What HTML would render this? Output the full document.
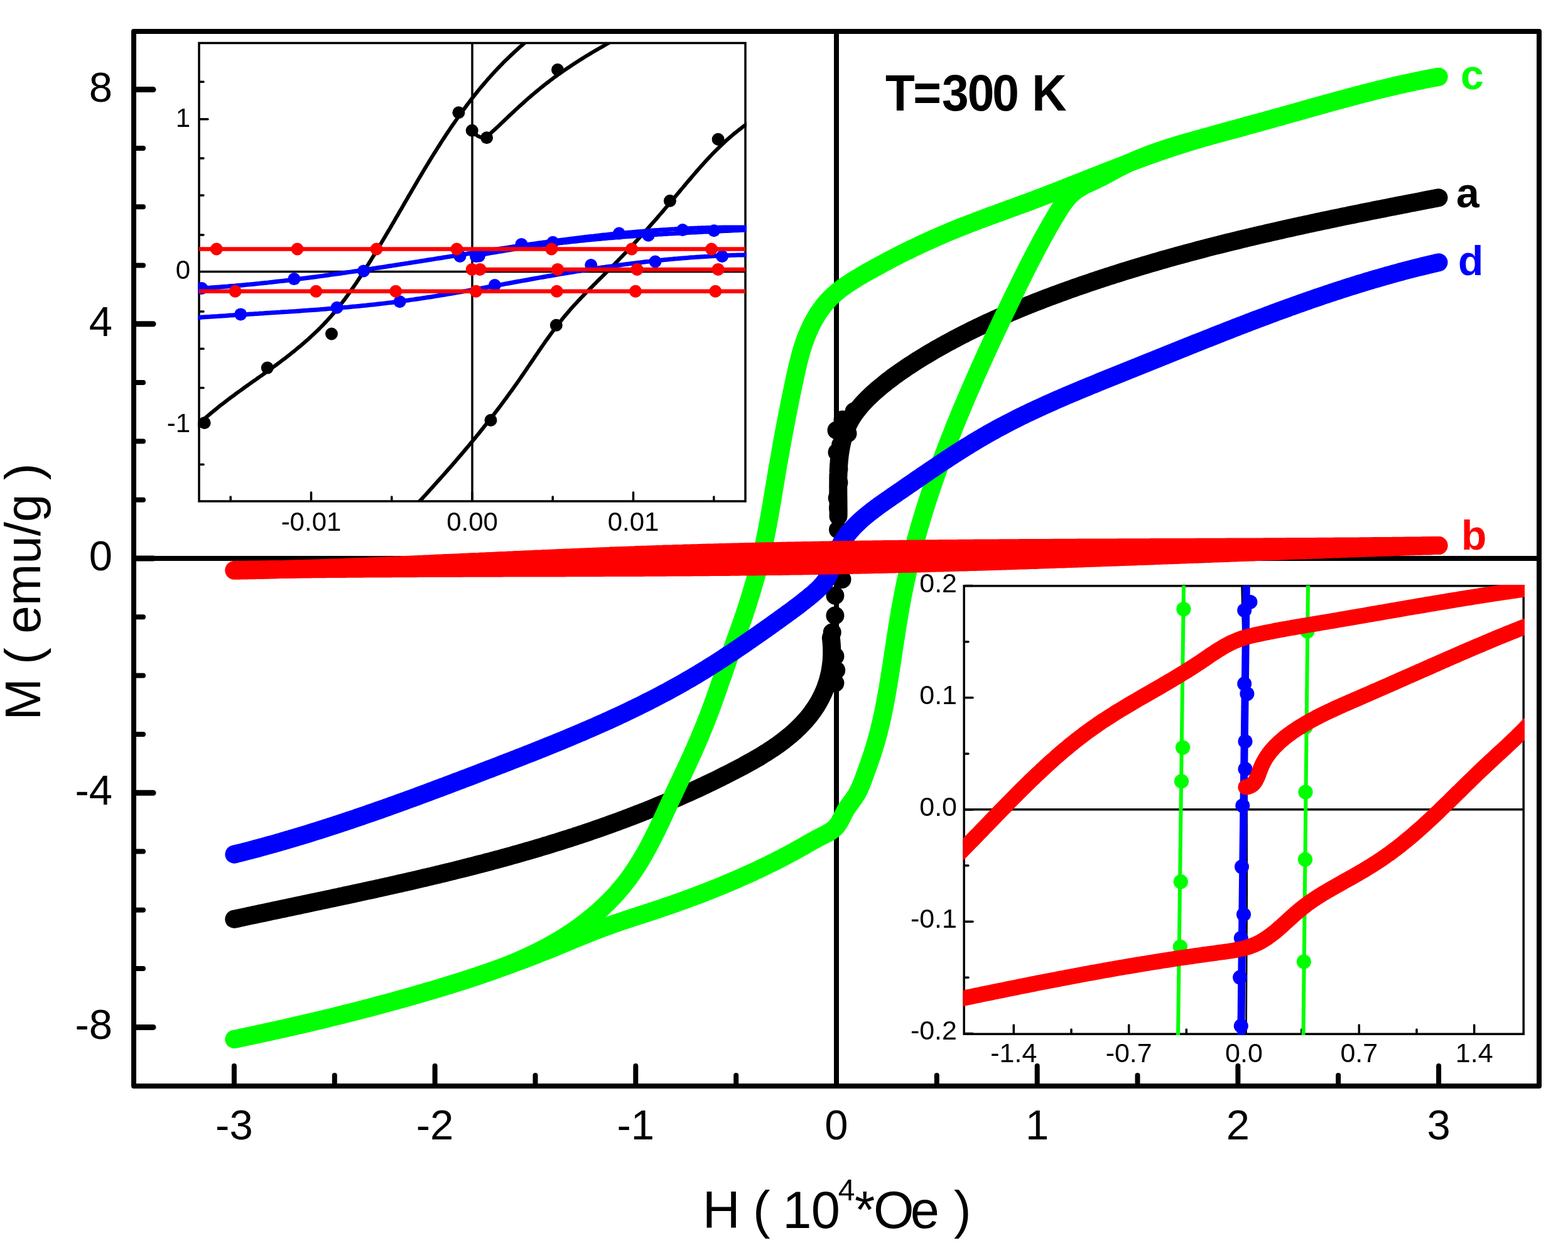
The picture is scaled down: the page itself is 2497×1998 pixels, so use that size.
<!DOCTYPE html><html><head><meta charset="utf-8"><title>M-H loops T=300 K</title>
<style>html,body{margin:0;padding:0;background:#fff;}svg{display:block;}text{font-family:"Liberation Sans",Arial,sans-serif;}</style></head><body>
<svg xmlns="http://www.w3.org/2000/svg" width="2497" height="1998" viewBox="0 0 2497 1998">
<rect x="0" y="0" width="2497" height="1998" fill="#fff"/>
<defs><clipPath id="c1"><rect x="315" y="67" width="874" height="732"/></clipPath><clipPath id="c2"><rect x="1533.5" y="931" width="894.5" height="717"/></clipPath><clipPath id="cm"><rect x="209" y="46" width="2246" height="1687"/></clipPath></defs>
<g stroke="#000" fill="none" stroke-linecap="butt">
<rect x="213" y="50" width="2238" height="1679" stroke-width="8" stroke-linejoin="round"/>
<line x1="1332" y1="50" x2="1332" y2="1729" stroke-width="8"/>
<line x1="213" y1="889" x2="2451" y2="889" stroke-width="8"/>
</g>
<g stroke="#000" stroke-linecap="round"><line x1="217" y1="1635.4" x2="244" y2="1635.4" stroke-width="9"/><line x1="217" y1="1542.1" x2="228" y2="1542.1" stroke-width="8"/><line x1="217" y1="1448.8" x2="228" y2="1448.8" stroke-width="8"/><line x1="217" y1="1355.5" x2="228" y2="1355.5" stroke-width="8"/><line x1="217" y1="1262.2" x2="244" y2="1262.2" stroke-width="9"/><line x1="217" y1="1168.9" x2="228" y2="1168.9" stroke-width="8"/><line x1="217" y1="1075.6" x2="228" y2="1075.6" stroke-width="8"/><line x1="217" y1="982.3" x2="228" y2="982.3" stroke-width="8"/><line x1="217" y1="889.0" x2="244" y2="889.0" stroke-width="9"/><line x1="217" y1="795.7" x2="228" y2="795.7" stroke-width="8"/><line x1="217" y1="702.4" x2="228" y2="702.4" stroke-width="8"/><line x1="217" y1="609.1" x2="228" y2="609.1" stroke-width="8"/><line x1="217" y1="515.8" x2="244" y2="515.8" stroke-width="9"/><line x1="217" y1="422.5" x2="228" y2="422.5" stroke-width="8"/><line x1="217" y1="329.2" x2="228" y2="329.2" stroke-width="8"/><line x1="217" y1="235.9" x2="228" y2="235.9" stroke-width="8"/><line x1="217" y1="142.6" x2="244" y2="142.6" stroke-width="9"/><line x1="372.9" y1="1725" x2="372.9" y2="1697" stroke-width="8"/><line x1="532.8" y1="1725" x2="532.8" y2="1712" stroke-width="8"/><line x1="692.6" y1="1725" x2="692.6" y2="1697" stroke-width="8"/><line x1="852.5" y1="1725" x2="852.5" y2="1712" stroke-width="8"/><line x1="1012.3" y1="1725" x2="1012.3" y2="1697" stroke-width="8"/><line x1="1172.2" y1="1725" x2="1172.2" y2="1712" stroke-width="8"/><line x1="1332.0" y1="1725" x2="1332.0" y2="1697" stroke-width="8"/><line x1="1491.8" y1="1725" x2="1491.8" y2="1712" stroke-width="8"/><line x1="1651.7" y1="1725" x2="1651.7" y2="1697" stroke-width="8"/><line x1="1811.5" y1="1725" x2="1811.5" y2="1712" stroke-width="8"/><line x1="1971.4" y1="1725" x2="1971.4" y2="1697" stroke-width="8"/><line x1="2131.2" y1="1725" x2="2131.2" y2="1712" stroke-width="8"/><line x1="2291.1" y1="1725" x2="2291.1" y2="1697" stroke-width="8"/></g>
<g font-size="67" fill="#000" text-anchor="end">
<text x="179" y="161.6">8</text>
<text x="179" y="534.8">4</text>
<text x="179" y="908.0">0</text>
<text x="179" y="1281.2">-4</text>
<text x="179" y="1654.4">-8</text>
</g>
<g font-size="67" fill="#000" text-anchor="middle">
<text x="372.9" y="1814">-3</text>
<text x="692.6" y="1814">-2</text>
<text x="1012.3" y="1814">-1</text>
<text x="1332.0" y="1814">0</text>
<text x="1651.7" y="1814">1</text>
<text x="1971.4" y="1814">2</text>
<text x="2291.1" y="1814">3</text>
</g>
<text y="1955" font-size="83" fill="#000"><tspan x="1118.8">H</tspan><tspan x="1198.9">(</tspan><tspan x="1246.2">1</tspan><tspan x="1291.8">0</tspan><tspan x="1334.8" y="1910.8" font-size="48">4</tspan><tspan x="1360.9" y="1955">*</tspan><tspan x="1391">O</tspan><tspan x="1449.7">e</tspan><tspan x="1518.9">)</tspan></text>
<text transform="translate(64,1146.5) rotate(-90)" font-size="80" fill="#000">M ( emu/g )</text>
<g fill="none" stroke-linecap="round" stroke-linejoin="round" stroke-width="29" clip-path="url(#cm)">
<path d="M372.8,1463.3 L376.8,1462.5 L380.7,1461.6 L384.7,1460.8 L388.7,1459.9 L392.6,1459.1 L396.6,1458.2 L400.5,1457.4 L404.5,1456.5 L408.5,1455.7 L412.4,1454.8 L416.4,1454.0 L420.3,1453.2 L424.3,1452.3 L428.2,1451.5 L432.2,1450.6 L436.2,1449.8 L440.1,1449.0 L444.1,1448.1 L448.0,1447.3 L452.0,1446.5 L455.9,1445.6 L459.9,1444.8 L463.8,1444.0 L467.8,1443.1 L471.7,1442.3 L475.7,1441.5 L479.6,1440.6 L483.6,1439.8 L487.5,1439.0 L491.5,1438.1 L495.4,1437.3 L499.4,1436.4 L503.3,1435.6 L507.3,1434.8 L511.2,1433.9 L515.2,1433.1 L519.1,1432.3 L523.0,1431.4 L527.0,1430.6 L530.9,1429.8 L534.9,1428.9 L538.8,1428.1 L542.7,1427.2 L546.7,1426.4 L550.6,1425.5 L554.5,1424.7 L558.5,1423.8 L562.4,1423.0 L566.3,1422.1 L570.3,1421.3 L574.2,1420.4 L578.1,1419.6 L582.1,1418.7 L586.0,1417.9 L589.9,1417.0 L593.8,1416.2 L597.8,1415.3 L601.7,1414.4 L605.6,1413.6 L609.5,1412.7 L613.5,1411.8 L617.4,1410.9 L621.3,1410.1 L625.2,1409.2 L629.1,1408.3 L633.0,1407.4 L637.0,1406.5 L640.9,1405.6 L644.8,1404.8 L648.7,1403.9 L652.6,1403.0 L656.5,1402.1 L660.4,1401.2 L664.3,1400.3 L668.2,1399.3 L672.1,1398.4 L676.0,1397.5 L679.9,1396.6 L683.8,1395.7 L687.7,1394.8 L691.6,1393.8 L695.5,1392.9 L699.4,1392.0 L703.3,1391.0 L707.2,1390.1 L711.1,1389.1 L715.0,1388.2 L718.9,1387.2 L722.8,1386.3 L726.7,1385.3 L730.6,1384.3 L734.4,1383.4 L738.3,1382.4 L742.2,1381.4 L746.1,1380.4 L750.0,1379.4 L753.8,1378.4 L757.7,1377.4 L761.6,1376.4 L765.5,1375.4 L769.3,1374.4 L773.2,1373.4 L777.1,1372.4 L780.9,1371.4 L784.8,1370.3 L788.7,1369.3 L792.5,1368.2 L796.4,1367.2 L800.2,1366.1 L804.1,1365.1 L808.0,1364.0 L811.8,1363.0 L815.7,1361.9 L819.5,1360.8 L823.4,1359.7 L827.2,1358.6 L831.1,1357.5 L834.9,1356.4 L838.7,1355.3 L842.6,1354.2 L846.4,1353.1 L850.3,1352.0 L854.1,1350.8 L857.9,1349.7 L861.8,1348.5 L865.6,1347.4 L869.4,1346.2 L873.3,1345.1 L877.1,1343.9 L880.9,1342.7 L884.7,1341.5 L888.6,1340.3 L892.4,1339.1 L896.2,1337.9 L900.0,1336.7 L903.8,1335.5 L907.6,1334.3 L911.4,1333.0 L915.3,1331.8 L919.1,1330.5 L922.9,1329.3 L926.7,1328.0 L930.5,1326.8 L934.3,1325.5 L938.1,1324.2 L941.9,1322.9 L945.6,1321.6 L949.4,1320.3 L953.2,1319.0 L957.0,1317.7 L960.8,1316.3 L964.6,1315.0 L968.4,1313.6 L972.1,1312.3 L975.9,1310.9 L979.7,1309.5 L983.5,1308.2 L987.2,1306.8 L991.0,1305.4 L994.8,1304.0 L998.5,1302.5 L1002.3,1301.1 L1006.1,1299.7 L1009.8,1298.2 L1013.6,1296.8 L1017.3,1295.3 L1021.1,1293.9 L1024.8,1292.4 L1028.6,1290.9 L1032.3,1289.4 L1036.1,1287.9 L1039.8,1286.4 L1043.6,1284.8 L1047.3,1283.3 L1051.0,1281.8 L1054.8,1280.2 L1058.5,1278.7 L1062.2,1277.1 L1065.9,1275.5 L1069.7,1273.9 L1073.4,1272.3 L1077.1,1270.7 L1080.8,1269.1 L1084.5,1267.4 L1088.2,1265.8 L1092.0,1264.1 L1095.7,1262.5 L1099.4,1260.8 L1103.1,1259.1 L1106.8,1257.4 L1110.5,1255.7 L1114.2,1254.0 L1117.9,1252.3 L1121.5,1250.5 L1125.2,1248.8 L1128.9,1247.0 L1132.6,1245.3 L1136.3,1243.5 L1140.0,1241.7 L1143.6,1239.9 L1147.3,1238.1 L1151.0,1236.2 L1154.7,1234.4 L1158.3,1232.5 L1162.0,1230.7 L1165.6,1228.8 L1169.3,1226.9 L1172.9,1225.0 L1176.6,1223.1 L1180.2,1221.2 L1183.9,1219.3 L1187.5,1217.3 L1191.1,1215.3 L1194.7,1213.3 L1198.2,1211.3 L1201.8,1209.3 L1205.3,1207.2 L1208.9,1205.2 L1212.4,1203.1 L1215.8,1200.9 L1219.3,1198.8 L1222.7,1196.6 L1226.1,1194.4 L1229.4,1192.2 L1232.8,1190.0 L1236.1,1187.7 L1239.3,1185.4 L1242.6,1183.0 L1245.8,1180.6 L1248.9,1178.2 L1252.0,1175.8 L1255.1,1173.3 L1258.1,1170.8 L1261.1,1168.3 L1264.0,1165.7 L1266.9,1163.1 L1269.7,1160.4 L1272.5,1157.7 L1275.2,1155.0 L1277.9,1152.2 L1280.5,1149.4 L1283.1,1146.5 L1285.6,1143.6 L1288.0,1140.7 L1290.4,1137.7 L1292.7,1134.6 L1294.9,1131.5 L1297.1,1128.4 L1299.2,1125.2 L1301.2,1122.0 L1303.2,1118.7 L1305.1,1115.3 L1306.9,1111.9 L1308.6,1108.5 L1310.3,1105.0 L1311.9,1101.4 L1313.4,1097.8 L1314.8,1094.1 L1316.1,1090.4 L1317.3,1086.7 L1318.5,1082.9 L1319.5,1079.0 L1320.5,1075.1 L1321.4,1071.1 L1322.2,1067.1 L1322.8,1063.0 L1323.4,1058.9 L1323.9,1054.8 L1324.3,1050.5 L1324.5,1046.3 L1324.7,1042.0 L1324.7,1037.6 L1324.7,1033.2 L1324.5,1028.8 L1324.2,1024.3 L1323.8,1019.8 L1323.3,1015.2" stroke="#000"/>
<path d="M1335.0,822.0 L1335.1,818.1 L1335.1,814.2 L1335.1,810.2 L1335.0,806.3 L1335.0,802.3 L1335.0,798.3 L1334.9,794.2 L1334.9,790.2 L1334.8,786.1 L1334.8,782.0 L1334.8,777.9 L1334.7,773.8 L1334.8,769.7 L1334.8,765.5 L1334.8,761.4 L1334.9,757.3 L1335.1,753.2 L1335.2,749.1 L1335.4,745.0 L1335.7,740.9 L1336.0,736.8 L1336.3,732.8 L1336.8,728.7 L1337.2,724.7 L1337.8,720.7 L1338.4,716.8 L1339.1,712.8 L1339.8,708.9 L1340.7,705.0 L1341.6,701.2 L1342.6,697.4 L1343.8,693.6 L1345.0,689.9 L1346.3,686.3 L1347.7,682.6 L1349.2,679.1 L1350.9,675.6 L1352.6,672.1 L1354.5,668.7 L1356.5,665.3 L1358.6,662.0 L1360.8,658.8 L1363.1,655.6 L1365.5,652.5 L1368.0,649.4 L1370.5,646.3 L1373.2,643.3 L1375.9,640.4 L1378.6,637.5 L1381.5,634.6 L1384.4,631.8 L1387.3,629.0 L1390.3,626.2 L1393.3,623.5 L1396.4,620.8 L1399.4,618.2 L1402.6,615.6 L1405.7,613.0 L1408.9,610.4 L1412.0,607.9 L1415.2,605.4 L1418.5,603.0 L1421.7,600.5 L1425.0,598.1 L1428.3,595.7 L1431.6,593.4 L1434.9,591.1 L1438.2,588.8 L1441.6,586.5 L1444.9,584.2 L1448.3,582.0 L1451.7,579.8 L1455.1,577.6 L1458.5,575.4 L1461.9,573.2 L1465.4,571.1 L1468.8,569.0 L1472.3,566.9 L1475.7,564.8 L1479.2,562.7 L1482.7,560.7 L1486.2,558.6 L1489.6,556.6 L1493.1,554.6 L1496.7,552.6 L1500.2,550.6 L1503.7,548.7 L1507.2,546.7 L1510.8,544.8 L1514.3,542.9 L1517.8,541.0 L1521.4,539.1 L1525.0,537.2 L1528.5,535.4 L1532.1,533.5 L1535.7,531.7 L1539.3,529.9 L1542.9,528.1 L1546.5,526.3 L1550.1,524.5 L1553.7,522.8 L1557.3,521.0 L1560.9,519.3 L1564.6,517.5 L1568.2,515.8 L1571.8,514.1 L1575.5,512.5 L1579.1,510.8 L1582.8,509.1 L1586.5,507.5 L1590.1,505.8 L1593.8,504.2 L1597.5,502.6 L1601.2,501.0 L1604.9,499.4 L1608.6,497.8 L1612.3,496.2 L1616.0,494.7 L1619.7,493.1 L1623.4,491.6 L1627.1,490.1 L1630.8,488.6 L1634.5,487.1 L1638.3,485.6 L1642.0,484.1 L1645.7,482.6 L1649.5,481.1 L1653.2,479.7 L1657.0,478.2 L1660.7,476.8 L1664.5,475.3 L1668.2,473.9 L1672.0,472.5 L1675.7,471.1 L1679.5,469.7 L1683.3,468.3 L1687.1,466.9 L1690.8,465.5 L1694.6,464.2 L1698.4,462.8 L1702.2,461.4 L1706.0,460.1 L1709.7,458.8 L1713.5,457.4 L1717.3,456.1 L1721.1,454.8 L1724.9,453.5 L1728.7,452.2 L1732.5,450.9 L1736.3,449.6 L1740.1,448.3 L1744.0,447.0 L1747.8,445.7 L1751.6,444.5 L1755.4,443.2 L1759.2,442.0 L1763.0,440.7 L1766.9,439.5 L1770.7,438.3 L1774.5,437.0 L1778.4,435.8 L1782.2,434.6 L1786.0,433.4 L1789.9,432.2 L1793.7,431.0 L1797.5,429.8 L1801.4,428.6 L1805.2,427.5 L1809.1,426.3 L1812.9,425.1 L1816.8,424.0 L1820.6,422.8 L1824.5,421.7 L1828.3,420.6 L1832.2,419.4 L1836.1,418.3 L1839.9,417.2 L1843.8,416.1 L1847.7,414.9 L1851.5,413.8 L1855.4,412.7 L1859.3,411.6 L1863.1,410.6 L1867.0,409.5 L1870.9,408.4 L1874.8,407.3 L1878.6,406.3 L1882.5,405.2 L1886.4,404.1 L1890.3,403.1 L1894.2,402.0 L1898.1,401.0 L1902.0,400.0 L1905.8,398.9 L1909.7,397.9 L1913.6,396.9 L1917.5,395.9 L1921.4,394.8 L1925.3,393.8 L1929.2,392.8 L1933.1,391.8 L1937.0,390.8 L1940.9,389.9 L1944.8,388.9 L1948.7,387.9 L1952.6,386.9 L1956.5,385.9 L1960.5,385.0 L1964.4,384.0 L1968.3,383.1 L1972.2,382.1 L1976.1,381.1 L1980.0,380.2 L1983.9,379.3 L1987.8,378.3 L1991.8,377.4 L1995.7,376.5 L1999.6,375.5 L2003.5,374.6 L2007.4,373.7 L2011.4,372.8 L2015.3,371.9 L2019.2,371.0 L2023.1,370.1 L2027.1,369.2 L2031.0,368.3 L2034.9,367.4 L2038.9,366.5 L2042.8,365.6 L2046.7,364.7 L2050.6,363.8 L2054.6,363.0 L2058.5,362.1 L2062.4,361.2 L2066.4,360.3 L2070.3,359.5 L2074.2,358.6 L2078.2,357.8 L2082.1,356.9 L2086.1,356.1 L2090.0,355.2 L2093.9,354.4 L2097.9,353.5 L2101.8,352.7 L2105.7,351.8 L2109.7,351.0 L2113.6,350.2 L2117.6,349.3 L2121.5,348.5 L2125.4,347.7 L2129.4,346.9 L2133.3,346.1 L2137.3,345.2 L2141.2,344.4 L2145.2,343.6 L2149.1,342.8 L2153.0,342.0 L2157.0,341.2 L2160.9,340.4 L2164.9,339.6 L2168.8,338.8 L2172.8,338.0 L2176.7,337.2 L2180.6,336.4 L2184.6,335.6 L2188.5,334.8 L2192.5,334.0 L2196.4,333.2 L2200.4,332.5 L2204.3,331.7 L2208.3,330.9 L2212.2,330.1 L2216.1,329.3 L2220.1,328.6 L2224.0,327.8 L2228.0,327.0 L2231.9,326.2 L2235.9,325.5 L2239.8,324.7 L2243.7,323.9 L2247.7,323.1 L2251.6,322.4 L2255.6,321.6 L2259.5,320.9 L2263.4,320.1 L2267.4,319.3 L2271.3,318.6 L2275.3,317.8 L2279.2,317.0 L2283.1,316.3 L2287.1,315.5 L2291.0,314.8" stroke="#000"/>
<g fill="#000" stroke="none"><circle cx="1338.6" cy="708.2" r="14.5"/><circle cx="1335.9" cy="746.4" r="14.5"/><circle cx="1335.9" cy="768.2" r="14.5"/><circle cx="1333.2" cy="792.7" r="14.5"/><circle cx="1334.5" cy="809.1" r="14.5"/><circle cx="1334.5" cy="843.2" r="14.5"/><circle cx="1341.0" cy="922.4" r="14.5"/><circle cx="1329.9" cy="948.3" r="14.5"/><circle cx="1329.9" cy="979.9" r="14.5"/><circle cx="1325.2" cy="1006.8" r="14.5"/><circle cx="1329.9" cy="1044.8" r="14.5"/><circle cx="1331.7" cy="1067.0" r="14.5"/><circle cx="1329.9" cy="1087.5" r="14.5"/><circle cx="1333.0" cy="720.0" r="14.5"/><circle cx="1350.0" cy="690.0" r="14.5"/><circle cx="1332.0" cy="685.0" r="14.5"/><circle cx="1342.0" cy="668.0" r="14.5"/><circle cx="1360.0" cy="655.0" r="14.5"/></g>
<path d="M373.0,1654.5 L376.9,1653.7 L380.8,1652.9 L384.8,1652.0 L388.7,1651.2 L392.6,1650.3 L396.5,1649.5 L400.4,1648.6 L404.3,1647.8 L408.2,1647.0 L412.2,1646.1 L416.1,1645.2 L420.0,1644.4 L423.9,1643.5 L427.8,1642.7 L431.7,1641.8 L435.6,1640.9 L439.5,1640.1 L443.5,1639.2 L447.4,1638.3 L451.3,1637.4 L455.2,1636.6 L459.1,1635.7 L463.0,1634.8 L466.9,1633.9 L470.8,1633.0 L474.7,1632.1 L478.6,1631.2 L482.5,1630.3 L486.5,1629.4 L490.4,1628.5 L494.3,1627.6 L498.2,1626.7 L502.1,1625.7 L506.0,1624.8 L509.9,1623.9 L513.8,1623.0 L517.7,1622.0 L521.6,1621.1 L525.5,1620.2 L529.4,1619.2 L533.3,1618.3 L537.2,1617.3 L541.1,1616.3 L545.0,1615.4 L548.8,1614.4 L552.7,1613.5 L556.6,1612.5 L560.5,1611.5 L564.4,1610.5 L568.3,1609.5 L572.2,1608.5 L576.1,1607.5 L579.9,1606.5 L583.8,1605.5 L587.7,1604.5 L591.6,1603.5 L595.5,1602.5 L599.4,1601.5 L603.2,1600.4 L607.1,1599.4 L611.0,1598.4 L614.8,1597.3 L618.7,1596.3 L622.6,1595.2 L626.5,1594.2 L630.3,1593.1 L634.2,1592.0 L638.1,1591.0 L641.9,1589.9 L645.8,1588.8 L649.6,1587.7 L653.5,1586.6 L657.3,1585.5 L661.2,1584.4 L665.0,1583.3 L668.9,1582.2 L672.7,1581.1 L676.6,1579.9 L680.4,1578.8 L684.3,1577.7 L688.1,1576.5 L692.0,1575.4 L695.8,1574.2 L699.6,1573.1 L703.5,1571.9 L707.3,1570.7 L711.1,1569.5 L715.0,1568.3 L718.8,1567.1 L722.6,1565.9 L726.4,1564.7 L730.3,1563.5 L734.1,1562.3 L737.9,1561.1 L741.7,1559.8 L745.5,1558.6 L749.3,1557.4 L753.1,1556.1 L756.9,1554.9 L760.7,1553.6 L764.5,1552.3 L768.3,1551.0 L772.1,1549.7 L775.9,1548.5 L779.7,1547.2 L783.5,1545.8 L787.3,1544.5 L791.1,1543.2 L794.8,1541.9 L798.6,1540.5 L802.4,1539.2 L806.2,1537.8 L809.9,1536.5 L813.7,1535.1 L817.5,1533.7 L821.2,1532.4 L825.0,1531.0 L828.8,1529.6 L832.5,1528.2 L836.3,1526.8 L840.0,1525.3 L843.8,1523.9 L847.5,1522.5 L851.2,1521.0 L855.0,1519.6 L858.7,1518.1 L862.5,1516.6 L866.2,1515.2 L869.9,1513.7 L873.6,1512.2 L877.4,1510.7 L881.1,1509.2 L884.8,1507.7 L888.5,1506.1 L892.2,1504.6 L895.9,1503.1 L899.6,1501.5 L903.3,1500.0 L907.0,1498.5 L910.8,1496.9 L914.5,1495.4 L918.2,1493.9 L921.9,1492.4 L925.6,1490.8 L929.3,1489.3 L933.0,1487.8 L936.8,1486.3 L940.5,1484.8 L944.2,1483.4 L947.9,1481.9 L951.7,1480.5 L955.4,1479.0 L959.2,1477.6 L962.9,1476.2 L966.7,1474.8 L970.4,1473.5 L974.2,1472.1 L978.0,1470.8 L981.8,1469.5 L985.6,1468.2 L989.3,1466.9 L993.1,1465.6 L996.9,1464.4 L1000.7,1463.1 L1004.5,1461.9 L1008.4,1460.6 L1012.2,1459.4 L1016.0,1458.1 L1019.8,1456.9 L1023.6,1455.7 L1027.4,1454.4 L1031.2,1453.2 L1035.0,1451.9 L1038.8,1450.7 L1042.6,1449.4 L1046.4,1448.2 L1050.2,1446.9 L1054.0,1445.6 L1057.8,1444.3 L1061.6,1443.0 L1065.4,1441.7 L1069.2,1440.4 L1073.0,1439.0 L1076.8,1437.7 L1080.5,1436.4 L1084.3,1435.0 L1088.1,1433.6 L1091.9,1432.3 L1095.6,1430.9 L1099.4,1429.5 L1103.2,1428.1 L1106.9,1426.7 L1110.7,1425.3 L1114.4,1423.9 L1118.2,1422.4 L1121.9,1421.0 L1125.7,1419.5 L1129.4,1418.1 L1133.1,1416.6 L1136.9,1415.1 L1140.6,1413.6 L1144.3,1412.1 L1148.0,1410.6 L1151.7,1409.1 L1155.4,1407.5 L1159.1,1406.0 L1162.8,1404.4 L1166.5,1402.8 L1170.2,1401.3 L1173.9,1399.7 L1177.5,1398.1 L1181.2,1396.4 L1184.9,1394.8 L1188.5,1393.2 L1192.2,1391.5 L1195.8,1389.9 L1199.5,1388.2 L1203.1,1386.5 L1206.7,1384.8 L1210.4,1383.1 L1214.0,1381.4 L1217.6,1379.6 L1221.2,1377.9 L1224.8,1376.1 L1228.4,1374.3 L1232.0,1372.6 L1235.5,1370.8 L1239.1,1368.9 L1242.7,1367.1 L1246.2,1365.3 L1249.8,1363.4 L1253.3,1361.6 L1256.8,1359.7 L1260.4,1357.8 L1263.9,1355.9 L1267.4,1353.9 L1270.9,1352.0 L1274.4,1350.1 L1277.9,1348.1 L1281.4,1346.1 L1284.8,1344.1 L1288.3,1342.1 L1291.8,1340.1 L1295.3,1338.2 L1298.9,1336.2 L1302.4,1334.3 L1306.1,1332.5 L1309.7,1330.6 L1313.4,1328.8 L1317.0,1326.9 L1320.5,1324.9 L1323.9,1322.8 L1327.0,1320.5 L1329.9,1317.9 L1332.5,1315.0 L1334.8,1311.9 L1336.9,1308.5 L1338.8,1305.0 L1340.7,1301.4 L1342.5,1297.7 L1344.4,1294.1 L1346.3,1290.5 L1348.5,1287.0 L1350.7,1283.7 L1353.1,1280.4 L1355.5,1277.1 L1357.8,1273.9 L1360.2,1270.6 L1362.4,1267.3 L1364.5,1264.0 L1366.4,1260.5 L1368.2,1256.9 L1369.8,1253.3 L1371.4,1249.6 L1372.8,1245.9 L1374.3,1242.2 L1375.7,1238.4 L1377.0,1234.6 L1378.4,1230.9 L1379.8,1227.1 L1381.2,1223.3 L1382.5,1219.5 L1383.9,1215.7 L1385.2,1211.9 L1386.5,1208.1 L1387.8,1204.3 L1389.1,1200.5 L1390.3,1196.7 L1391.5,1192.8 L1392.7,1189.0 L1393.9,1185.2 L1395.0,1181.3 L1396.1,1177.5 L1397.1,1173.6 L1398.2,1169.7 L1399.2,1165.9 L1400.2,1162.0 L1401.1,1158.1 L1402.1,1154.2 L1403.0,1150.4 L1403.9,1146.5 L1404.7,1142.6 L1405.6,1138.7 L1406.4,1134.8 L1407.2,1130.8 L1408.0,1126.9 L1408.8,1123.0 L1409.5,1119.1 L1410.3,1115.2 L1411.0,1111.2 L1411.7,1107.3 L1412.4,1103.4 L1413.1,1099.4 L1413.8,1095.5 L1414.4,1091.5 L1415.1,1087.6 L1415.7,1083.6 L1416.4,1079.7 L1417.0,1075.7 L1417.6,1071.8 L1418.2,1067.8 L1418.9,1063.8 L1419.5,1059.9 L1420.1,1055.9 L1420.7,1051.9 L1421.3,1048.0 L1421.9,1044.0 L1422.5,1040.0 L1423.1,1036.1 L1423.7,1032.1 L1424.3,1028.1 L1424.9,1024.1 L1425.5,1020.2 L1426.1,1016.2 L1426.8,1012.2 L1427.4,1008.3 L1428.0,1004.3 L1428.6,1000.3 L1429.3,996.3 L1429.9,992.4 L1430.6,988.4 L1431.2,984.5 L1431.9,980.5 L1432.5,976.5 L1433.2,972.6 L1433.9,968.6 L1434.6,964.7 L1435.3,960.7 L1436.1,956.8 L1436.8,952.8 L1437.5,948.9 L1438.3,945.0 L1439.1,941.0 L1439.9,937.1 L1440.7,933.2 L1441.5,929.2 L1442.3,925.3 L1443.2,921.4 L1444.1,917.5 L1444.9,913.6 L1445.8,909.7 L1446.7,905.8 L1447.6,901.9 L1448.6,898.0 L1449.5,894.1 L1450.4,890.2 L1451.4,886.3 L1452.4,882.4 L1453.4,878.6 L1454.4,874.7 L1455.4,870.8 L1456.4,867.0 L1457.5,863.1 L1458.5,859.2 L1459.6,855.4 L1460.6,851.5 L1461.7,847.7 L1462.8,843.8 L1463.9,840.0 L1465.0,836.1 L1466.2,832.3 L1467.3,828.5 L1468.5,824.6 L1469.6,820.8 L1470.8,817.0 L1472.0,813.2 L1473.2,809.3 L1474.4,805.5 L1475.6,801.7 L1476.8,797.9 L1478.1,794.1 L1479.3,790.3 L1480.6,786.5 L1481.8,782.7 L1483.1,778.9 L1484.4,775.1 L1485.7,771.3 L1487.0,767.5 L1488.3,763.7 L1489.6,760.0 L1491.0,756.2 L1492.3,752.4 L1493.7,748.6 L1495.0,744.9 L1496.4,741.1 L1497.8,737.3 L1499.1,733.6 L1500.5,729.8 L1501.9,726.1 L1503.3,722.3 L1504.8,718.6 L1506.2,714.8 L1507.6,711.1 L1509.1,707.3 L1510.5,703.6 L1512.0,699.9 L1513.4,696.1 L1514.9,692.4 L1516.4,688.7 L1517.9,684.9 L1519.3,681.2 L1520.8,677.5 L1522.3,673.8 L1523.9,670.1 L1525.4,666.4 L1526.9,662.6 L1528.4,658.9 L1530.0,655.2 L1531.5,651.5 L1533.1,647.8 L1534.6,644.1 L1536.2,640.4 L1537.7,636.7 L1539.3,633.0 L1540.9,629.3 L1542.5,625.7 L1544.1,622.0 L1545.7,618.3 L1547.3,614.6 L1548.9,610.9 L1550.5,607.3 L1552.1,603.6 L1553.7,599.9 L1555.3,596.2 L1557.0,592.6 L1558.6,588.9 L1560.2,585.2 L1561.9,581.6 L1563.5,577.9 L1565.2,574.3 L1566.8,570.6 L1568.5,567.0 L1570.1,563.3 L1571.8,559.7 L1573.5,556.0 L1575.2,552.4 L1576.8,548.7 L1578.5,545.1 L1580.2,541.5 L1581.9,537.8 L1583.6,534.2 L1585.3,530.6 L1587.0,527.0 L1588.7,523.3 L1590.4,519.7 L1592.1,516.1 L1593.8,512.5 L1595.5,508.9 L1597.3,505.2 L1599.0,501.6 L1600.7,498.0 L1602.5,494.4 L1604.2,490.8 L1605.9,487.2 L1607.7,483.6 L1609.4,480.0 L1611.2,476.4 L1612.9,472.8 L1614.7,469.2 L1616.4,465.6 L1618.2,462.0 L1619.9,458.5 L1621.7,454.9 L1623.4,451.3 L1625.2,447.7 L1627.0,444.1 L1628.8,440.6 L1630.5,437.0 L1632.3,433.4 L1634.1,429.8 L1635.9,426.3 L1637.7,422.7 L1639.5,419.2 L1641.4,415.6 L1643.2,412.0 L1645.0,408.5 L1646.9,404.9 L1648.7,401.4 L1650.6,397.9 L1652.5,394.3 L1654.4,390.8 L1656.3,387.2 L1658.2,383.7 L1660.1,380.2 L1662.0,376.6 L1664.0,373.1 L1666.0,369.6 L1667.9,366.1 L1669.9,362.6 L1671.9,359.0 L1674.0,355.5 L1676.0,352.0 L1678.1,348.5 L1680.2,345.0 L1682.3,341.5 L1684.4,338.0 L1686.5,334.6 L1688.7,331.1 L1691.0,327.7 L1693.3,324.4 L1695.7,321.2 L1698.1,318.0 L1700.7,315.0 L1703.3,312.1 L1706.1,309.3 L1709.0,306.7 L1712.1,304.3 L1715.2,302.0 L1718.5,299.9 L1721.9,297.9 L1725.4,296.0 L1728.9,294.1 L1732.5,292.4 L1736.2,290.7 L1739.9,289.0 L1743.5,287.3 L1747.2,285.6 L1750.9,283.8 L1754.5,282.0 L1758.1,280.1 L1761.6,278.3 L1765.2,276.3 L1768.7,274.4 L1772.3,272.5 L1775.8,270.6 L1779.4,268.7 L1782.9,266.8 L1786.5,265.0 L1790.1,263.2 L1793.7,261.4 L1797.3,259.7 L1800.9,258.0 L1804.6,256.4 L1808.2,254.8 L1811.9,253.2 L1815.6,251.7 L1819.3,250.2 L1823.0,248.7 L1826.7,247.2 L1830.5,245.8 L1834.2,244.4 L1838.0,243.1 L1841.7,241.7 L1845.5,240.4 L1849.3,239.1 L1853.1,237.8 L1856.9,236.6 L1860.7,235.4 L1864.5,234.2 L1868.3,233.0 L1872.1,231.8 L1876.0,230.6 L1879.8,229.5 L1883.7,228.4 L1887.5,227.3 L1891.4,226.2 L1895.2,225.1 L1899.1,224.0 L1903.0,222.9 L1906.9,221.9 L1910.7,220.8 L1914.6,219.8 L1918.5,218.7 L1922.4,217.7 L1926.3,216.6 L1930.1,215.6 L1934.0,214.6 L1937.9,213.5 L1941.8,212.5 L1945.7,211.5 L1949.6,210.4 L1953.4,209.4 L1957.3,208.3 L1961.2,207.3 L1965.1,206.2 L1968.9,205.2 L1972.8,204.1 L1976.7,203.1 L1980.6,202.0 L1984.4,200.9 L1988.3,199.8 L1992.2,198.8 L1996.0,197.7 L1999.9,196.6 L2003.8,195.5 L2007.6,194.4 L2011.5,193.3 L2015.3,192.3 L2019.2,191.2 L2023.1,190.1 L2026.9,189.0 L2030.8,187.9 L2034.6,186.8 L2038.5,185.7 L2042.3,184.6 L2046.2,183.5 L2050.0,182.4 L2053.9,181.3 L2057.8,180.2 L2061.6,179.1 L2065.5,178.0 L2069.3,177.0 L2073.2,175.9 L2077.0,174.8 L2080.9,173.7 L2084.7,172.6 L2088.6,171.5 L2092.4,170.4 L2096.3,169.4 L2100.2,168.3 L2104.0,167.2 L2107.9,166.1 L2111.7,165.1 L2115.6,164.0 L2119.5,162.9 L2123.3,161.9 L2127.2,160.8 L2131.0,159.8 L2134.9,158.7 L2138.8,157.7 L2142.6,156.7 L2146.5,155.6 L2150.4,154.6 L2154.2,153.6 L2158.1,152.6 L2162.0,151.5 L2165.9,150.5 L2169.7,149.5 L2173.6,148.5 L2177.5,147.6 L2181.4,146.6 L2185.3,145.6 L2189.1,144.6 L2193.0,143.7 L2196.9,142.7 L2200.8,141.8 L2204.7,140.8 L2208.6,139.9 L2212.5,139.0 L2216.4,138.0 L2220.3,137.1 L2224.2,136.2 L2228.1,135.3 L2232.0,134.5 L2235.9,133.6 L2239.8,132.7 L2243.7,131.9 L2247.7,131.0 L2251.6,130.2 L2255.5,129.3 L2259.4,128.5 L2263.4,127.7 L2267.3,126.9 L2271.2,126.1 L2275.2,125.3 L2279.1,124.6 L2283.1,123.8 L2287.0,123.1 L2291.0,122.3" stroke="#00ff00"/>
<path d="M2291.0,122.4 L2287.0,123.1 L2283.1,123.8 L2279.1,124.5 L2275.2,125.3 L2271.2,126.0 L2267.3,126.8 L2263.4,127.6 L2259.4,128.4 L2255.5,129.2 L2251.6,130.0 L2247.7,130.9 L2243.8,131.7 L2239.8,132.6 L2235.9,133.4 L2232.0,134.3 L2228.1,135.2 L2224.2,136.1 L2220.3,137.0 L2216.4,137.9 L2212.5,138.9 L2208.6,139.8 L2204.7,140.7 L2200.8,141.7 L2196.9,142.6 L2193.0,143.6 L2189.2,144.6 L2185.3,145.6 L2181.4,146.5 L2177.5,147.5 L2173.6,148.5 L2169.7,149.6 L2165.9,150.6 L2162.0,151.6 L2158.1,152.6 L2154.2,153.6 L2150.4,154.7 L2146.5,155.7 L2142.6,156.8 L2138.8,157.8 L2134.9,158.9 L2131.0,159.9 L2127.2,161.0 L2123.3,162.0 L2119.4,163.1 L2115.6,164.2 L2111.7,165.2 L2107.8,166.3 L2104.0,167.4 L2100.1,168.5 L2096.2,169.5 L2092.4,170.6 L2088.5,171.7 L2084.7,172.8 L2080.8,173.9 L2076.9,174.9 L2073.1,176.0 L2069.2,177.1 L2065.3,178.2 L2061.5,179.2 L2057.6,180.3 L2053.7,181.4 L2049.9,182.5 L2046.0,183.5 L2042.2,184.6 L2038.3,185.7 L2034.4,186.8 L2030.5,187.8 L2026.7,188.9 L2022.8,189.9 L2018.9,191.0 L2015.1,192.0 L2011.2,193.1 L2007.3,194.1 L2003.5,195.2 L1999.6,196.2 L1995.7,197.3 L1991.8,198.3 L1988.0,199.4 L1984.1,200.4 L1980.2,201.5 L1976.4,202.6 L1972.5,203.6 L1968.6,204.7 L1964.8,205.7 L1960.9,206.8 L1957.0,207.9 L1953.2,209.0 L1949.3,210.0 L1945.5,211.1 L1941.6,212.2 L1937.7,213.3 L1933.9,214.4 L1930.0,215.5 L1926.2,216.6 L1922.3,217.7 L1918.5,218.8 L1914.6,220.0 L1910.8,221.1 L1907.0,222.3 L1903.1,223.4 L1899.3,224.6 L1895.5,225.7 L1891.6,226.9 L1887.8,228.1 L1884.0,229.3 L1880.2,230.5 L1876.4,231.8 L1872.5,233.0 L1868.7,234.2 L1864.9,235.5 L1861.1,236.7 L1857.3,238.0 L1853.5,239.3 L1849.8,240.6 L1846.0,241.9 L1842.2,243.2 L1838.4,244.6 L1834.6,245.9 L1830.9,247.3 L1827.1,248.6 L1823.3,250.0 L1819.6,251.4 L1815.8,252.7 L1812.0,254.1 L1808.3,255.5 L1804.5,256.9 L1800.8,258.3 L1797.0,259.7 L1793.3,261.2 L1789.5,262.6 L1785.8,264.0 L1782.0,265.5 L1778.3,266.9 L1774.5,268.4 L1770.8,269.8 L1767.1,271.3 L1763.3,272.7 L1759.6,274.2 L1755.8,275.6 L1752.1,277.1 L1748.4,278.6 L1744.6,280.0 L1740.9,281.5 L1737.2,283.0 L1733.4,284.5 L1729.7,285.9 L1726.0,287.4 L1722.2,288.9 L1718.5,290.4 L1714.8,291.8 L1711.0,293.3 L1707.3,294.8 L1703.6,296.3 L1699.8,297.7 L1696.1,299.2 L1692.4,300.7 L1688.6,302.1 L1684.9,303.6 L1681.2,305.1 L1677.4,306.5 L1673.7,308.0 L1669.9,309.4 L1666.2,310.8 L1662.4,312.3 L1658.7,313.7 L1655.0,315.1 L1651.2,316.6 L1647.5,318.0 L1643.7,319.4 L1639.9,320.8 L1636.2,322.2 L1632.4,323.6 L1628.7,324.9 L1624.9,326.3 L1621.1,327.7 L1617.4,329.1 L1613.6,330.5 L1609.9,331.8 L1606.1,333.2 L1602.3,334.6 L1598.6,336.0 L1594.8,337.3 L1591.0,338.7 L1587.3,340.1 L1583.5,341.5 L1579.8,342.8 L1576.0,344.2 L1572.2,345.6 L1568.5,347.0 L1564.7,348.4 L1561.0,349.8 L1557.2,351.2 L1553.5,352.6 L1549.8,354.1 L1546.0,355.5 L1542.3,356.9 L1538.6,358.4 L1534.8,359.8 L1531.1,361.3 L1527.4,362.8 L1523.7,364.3 L1520.0,365.8 L1516.3,367.3 L1512.6,368.8 L1508.9,370.4 L1505.2,371.9 L1501.5,373.5 L1497.8,375.1 L1494.1,376.7 L1490.5,378.3 L1486.8,379.9 L1483.2,381.5 L1479.5,383.2 L1475.9,384.8 L1472.2,386.5 L1468.6,388.2 L1464.9,389.9 L1461.3,391.6 L1457.7,393.3 L1454.1,395.0 L1450.5,396.8 L1446.8,398.6 L1443.2,400.3 L1439.6,402.1 L1436.0,403.9 L1432.5,405.7 L1428.9,407.6 L1425.3,409.4 L1421.7,411.3 L1418.1,413.1 L1414.6,415.0 L1411.0,416.9 L1407.4,418.8 L1403.9,420.7 L1400.3,422.6 L1396.8,424.6 L1393.3,426.5 L1389.7,428.5 L1386.2,430.4 L1382.6,432.4 L1379.1,434.4 L1375.6,436.4 L1372.1,438.5 L1368.6,440.5 L1365.1,442.6 L1361.7,444.7 L1358.2,446.8 L1354.8,449.0 L1351.5,451.2 L1348.1,453.4 L1344.9,455.7 L1341.6,458.0 L1338.5,460.4 L1335.4,462.9 L1332.3,465.4 L1329.3,468.0 L1326.4,470.6 L1323.6,473.3 L1320.8,476.1 L1318.1,479.0 L1315.5,481.9 L1313.0,484.9 L1310.6,488.0 L1308.2,491.2 L1305.9,494.4 L1303.7,497.6 L1301.6,500.9 L1299.5,504.3 L1297.5,507.7 L1295.6,511.2 L1293.7,514.7 L1291.9,518.3 L1290.2,521.9 L1288.5,525.6 L1286.9,529.2 L1285.3,533.0 L1283.8,536.7 L1282.4,540.5 L1281.0,544.3 L1279.7,548.1 L1278.4,551.9 L1277.2,555.8 L1276.1,559.7 L1275.0,563.5 L1273.9,567.4 L1272.9,571.4 L1271.9,575.3 L1270.9,579.2 L1270.0,583.1 L1269.1,587.1 L1268.2,591.0 L1267.3,595.0 L1266.4,598.9 L1265.6,602.9 L1264.8,606.8 L1263.9,610.8 L1263.1,614.7 L1262.3,618.7 L1261.5,622.6 L1260.6,626.5 L1259.8,630.5 L1259.0,634.4 L1258.2,638.3 L1257.4,642.3 L1256.7,646.2 L1255.9,650.1 L1255.1,654.1 L1254.3,658.0 L1253.5,661.9 L1252.8,665.8 L1252.0,669.8 L1251.3,673.7 L1250.5,677.6 L1249.8,681.5 L1249.0,685.5 L1248.3,689.4 L1247.6,693.3 L1246.8,697.2 L1246.1,701.2 L1245.4,705.1 L1244.7,709.0 L1244.0,713.0 L1243.3,716.9 L1242.6,720.8 L1241.9,724.7 L1241.2,728.7 L1240.5,732.6 L1239.8,736.6 L1239.1,740.5 L1238.4,744.4 L1237.7,748.4 L1237.1,752.3 L1236.4,756.3 L1235.7,760.2 L1235.1,764.2 L1234.4,768.1 L1233.8,772.1 L1233.1,776.0 L1232.4,780.0 L1231.8,783.9 L1231.1,787.9 L1230.5,791.9 L1229.8,795.8 L1229.2,799.8 L1228.5,803.7 L1227.8,807.7 L1227.1,811.7 L1226.4,815.6 L1225.8,819.6 L1225.1,823.5 L1224.3,827.5 L1223.6,831.4 L1222.9,835.4 L1222.2,839.3 L1221.4,843.3 L1220.6,847.2 L1219.8,851.2 L1219.0,855.1 L1218.2,859.0 L1217.4,862.9 L1216.6,866.9 L1215.7,870.8 L1214.8,874.7 L1213.9,878.6 L1213.0,882.5 L1212.1,886.4 L1211.1,890.3 L1210.2,894.2 L1209.2,898.1 L1208.2,902.0 L1207.2,905.8 L1206.1,909.7 L1205.1,913.6 L1204.1,917.4 L1203.0,921.3 L1201.9,925.2 L1200.8,929.0 L1199.7,932.9 L1198.6,936.7 L1197.4,940.5 L1196.3,944.4 L1195.1,948.2 L1193.9,952.0 L1192.7,955.8 L1191.5,959.7 L1190.3,963.5 L1189.0,967.3 L1187.8,971.1 L1186.5,974.9 L1185.3,978.7 L1184.0,982.5 L1182.7,986.3 L1181.4,990.1 L1180.0,993.9 L1178.7,997.6 L1177.4,1001.4 L1176.0,1005.2 L1174.7,1009.0 L1173.3,1012.7 L1172.0,1016.5 L1170.6,1020.3 L1169.2,1024.1 L1167.9,1027.8 L1166.5,1031.6 L1165.2,1035.4 L1163.8,1039.1 L1162.4,1042.9 L1161.1,1046.7 L1159.7,1050.5 L1158.4,1054.2 L1157.1,1058.0 L1155.7,1061.8 L1154.4,1065.6 L1153.1,1069.4 L1151.8,1073.2 L1150.5,1077.0 L1149.2,1080.8 L1147.8,1084.6 L1146.5,1088.3 L1145.2,1092.1 L1143.9,1095.9 L1142.6,1099.7 L1141.2,1103.5 L1139.9,1107.3 L1138.6,1111.0 L1137.2,1114.8 L1135.8,1118.6 L1134.5,1122.3 L1133.1,1126.1 L1131.7,1129.9 L1130.3,1133.6 L1128.8,1137.4 L1127.4,1141.1 L1125.9,1144.8 L1124.5,1148.5 L1123.0,1152.3 L1121.5,1156.0 L1120.0,1159.7 L1118.5,1163.4 L1117.0,1167.1 L1115.4,1170.8 L1113.9,1174.5 L1112.3,1178.2 L1110.7,1181.9 L1109.1,1185.5 L1107.5,1189.2 L1105.9,1192.9 L1104.3,1196.5 L1102.6,1200.2 L1101.0,1203.8 L1099.3,1207.5 L1097.6,1211.1 L1096.0,1214.8 L1094.3,1218.4 L1092.6,1222.0 L1090.9,1225.7 L1089.2,1229.3 L1087.5,1232.9 L1085.8,1236.5 L1084.1,1240.2 L1082.4,1243.8 L1080.6,1247.4 L1078.9,1251.1 L1077.2,1254.7 L1075.5,1258.3 L1073.9,1262.0 L1072.2,1265.6 L1070.5,1269.3 L1068.8,1272.9 L1067.1,1276.6 L1065.5,1280.2 L1063.8,1283.9 L1062.1,1287.5 L1060.4,1291.2 L1058.8,1294.8 L1057.1,1298.5 L1055.4,1302.1 L1053.7,1305.8 L1052.0,1309.4 L1050.2,1313.0 L1048.5,1316.6 L1046.8,1320.3 L1045.0,1323.9 L1043.2,1327.5 L1041.4,1331.1 L1039.6,1334.7 L1037.8,1338.2 L1036.0,1341.8 L1034.1,1345.3 L1032.2,1348.9 L1030.3,1352.4 L1028.3,1355.9 L1026.4,1359.4 L1024.4,1362.9 L1022.3,1366.3 L1020.3,1369.8 L1018.2,1373.2 L1016.1,1376.6 L1013.9,1380.0 L1011.8,1383.3 L1009.5,1386.6 L1007.3,1389.9 L1005.0,1393.2 L1002.7,1396.5 L1000.3,1399.7 L997.9,1402.9 L995.4,1406.0 L992.9,1409.2 L990.4,1412.3 L987.8,1415.3 L985.2,1418.4 L982.6,1421.4 L979.9,1424.4 L977.2,1427.3 L974.4,1430.2 L971.6,1433.1 L968.8,1436.0 L965.9,1438.8 L963.0,1441.6 L960.1,1444.4 L957.2,1447.1 L954.2,1449.8 L951.2,1452.5 L948.1,1455.1 L945.1,1457.7 L942.0,1460.3 L938.8,1462.8 L935.7,1465.4 L932.5,1467.8 L929.3,1470.3 L926.1,1472.7 L922.9,1475.1 L919.6,1477.4 L916.3,1479.8 L913.0,1482.1 L909.7,1484.3 L906.3,1486.5 L902.9,1488.7 L899.6,1490.9 L896.2,1493.0 L892.7,1495.1 L889.3,1497.2 L885.9,1499.2 L882.4,1501.2 L878.9,1503.2 L875.4,1505.1 L871.9,1507.1 L868.4,1508.9 L864.8,1510.8 L861.3,1512.6 L857.7,1514.4 L854.1,1516.2 L850.5,1518.0 L846.9,1519.7 L843.3,1521.4 L839.7,1523.1 L836.0,1524.7 L832.4,1526.4 L828.7,1528.0 L825.1,1529.6 L821.4,1531.1 L817.7,1532.7 L814.0,1534.2 L810.2,1535.7 L806.5,1537.2 L802.8,1538.7 L799.0,1540.1 L795.3,1541.5 L791.5,1542.9 L787.8,1544.3 L784.0,1545.7 L780.2,1547.1 L776.4,1548.4 L772.6,1549.8 L768.8,1551.1 L765.0,1552.4 L761.2,1553.7 L757.4,1555.0 L753.6,1556.2 L749.7,1557.5 L745.9,1558.7 L742.1,1560.0 L738.2,1561.2 L734.4,1562.4 L730.6,1563.6 L726.7,1564.8 L722.9,1566.0 L719.0,1567.2 L715.2,1568.3 L711.3,1569.5 L707.4,1570.7 L703.6,1571.8 L699.7,1573.0 L695.9,1574.1 L692.0,1575.3 L688.2,1576.4 L684.3,1577.5 L680.4,1578.7 L676.6,1579.8 L672.7,1580.9 L668.9,1582.0 L665.0,1583.1 L661.1,1584.2 L657.3,1585.3 L653.4,1586.4 L649.5,1587.5 L645.7,1588.6 L641.8,1589.7 L638.0,1590.8 L634.1,1591.8 L630.2,1592.9 L626.4,1594.0 L622.5,1595.0 L618.6,1596.1 L614.8,1597.2 L610.9,1598.2 L607.0,1599.2 L603.1,1600.3 L599.3,1601.3 L595.4,1602.4 L591.5,1603.4 L587.7,1604.4 L583.8,1605.4 L579.9,1606.4 L576.0,1607.5 L572.2,1608.5 L568.3,1609.5 L564.4,1610.5 L560.5,1611.5 L556.7,1612.4 L552.8,1613.4 L548.9,1614.4 L545.0,1615.4 L541.1,1616.4 L537.2,1617.3 L533.4,1618.3 L529.5,1619.3 L525.6,1620.2 L521.7,1621.2 L517.8,1622.1 L513.9,1623.1 L510.0,1624.0 L506.1,1624.9 L502.2,1625.9 L498.3,1626.8 L494.4,1627.7 L490.6,1628.7 L486.7,1629.6 L482.8,1630.5 L478.9,1631.4 L475.0,1632.3 L471.0,1633.2 L467.1,1634.1 L463.2,1635.0 L459.3,1635.9 L455.4,1636.8 L451.5,1637.7 L447.6,1638.5 L443.7,1639.4 L439.8,1640.3 L435.9,1641.1 L431.9,1642.0 L428.0,1642.9 L424.1,1643.7 L420.2,1644.6 L416.3,1645.4 L412.3,1646.3 L408.4,1647.1 L404.5,1647.9 L400.6,1648.8 L396.6,1649.6 L392.7,1650.4 L388.8,1651.3 L384.8,1652.1 L380.9,1652.9 L376.9,1653.7 L373.0,1654.5" stroke="#00ff00"/>
<path d="M372.9,1360.1 L376.8,1359.1 L380.7,1358.2 L384.6,1357.2 L388.5,1356.2 L392.4,1355.2 L396.3,1354.2 L400.2,1353.2 L404.1,1352.1 L408.0,1351.1 L411.9,1350.1 L415.7,1349.0 L419.6,1348.0 L423.5,1346.9 L427.4,1345.8 L431.2,1344.7 L435.1,1343.7 L439.0,1342.6 L442.8,1341.5 L446.7,1340.4 L450.5,1339.3 L454.4,1338.1 L458.2,1337.0 L462.1,1335.9 L465.9,1334.7 L469.8,1333.6 L473.6,1332.4 L477.5,1331.3 L481.3,1330.1 L485.1,1329.0 L489.0,1327.8 L492.8,1326.6 L496.6,1325.4 L500.5,1324.2 L504.3,1323.0 L508.1,1321.8 L511.9,1320.6 L515.7,1319.4 L519.6,1318.2 L523.4,1316.9 L527.2,1315.7 L531.0,1314.5 L534.8,1313.2 L538.6,1312.0 L542.4,1310.7 L546.2,1309.5 L550.0,1308.2 L553.8,1306.9 L557.6,1305.7 L561.4,1304.4 L565.2,1303.1 L569.0,1301.8 L572.8,1300.5 L576.6,1299.2 L580.4,1297.9 L584.2,1296.6 L587.9,1295.3 L591.7,1294.0 L595.5,1292.7 L599.3,1291.3 L603.1,1290.0 L606.8,1288.7 L610.6,1287.4 L614.4,1286.0 L618.2,1284.7 L621.9,1283.3 L625.7,1282.0 L629.5,1280.6 L633.3,1279.3 L637.0,1277.9 L640.8,1276.5 L644.6,1275.2 L648.3,1273.8 L652.1,1272.4 L655.9,1271.1 L659.6,1269.7 L663.4,1268.3 L667.1,1266.9 L670.9,1265.5 L674.7,1264.1 L678.4,1262.7 L682.2,1261.3 L685.9,1259.9 L689.7,1258.5 L693.4,1257.1 L697.2,1255.7 L701.0,1254.3 L704.7,1252.9 L708.5,1251.5 L712.2,1250.1 L716.0,1248.7 L719.7,1247.3 L723.5,1245.8 L727.2,1244.4 L731.0,1243.0 L734.7,1241.6 L738.5,1240.1 L742.2,1238.7 L746.0,1237.3 L749.7,1235.9 L753.5,1234.4 L757.2,1233.0 L761.0,1231.6 L764.7,1230.1 L768.5,1228.7 L772.2,1227.3 L776.0,1225.8 L779.7,1224.4 L783.5,1222.9 L787.2,1221.5 L791.0,1220.1 L794.7,1218.6 L798.5,1217.2 L802.2,1215.7 L806.0,1214.3 L809.7,1212.8 L813.5,1211.4 L817.2,1209.9 L820.9,1208.5 L824.7,1207.0 L828.4,1205.5 L832.2,1204.1 L835.9,1202.6 L839.7,1201.1 L843.4,1199.7 L847.1,1198.2 L850.9,1196.7 L854.6,1195.2 L858.3,1193.7 L862.1,1192.3 L865.8,1190.8 L869.5,1189.3 L873.2,1187.8 L877.0,1186.3 L880.7,1184.8 L884.4,1183.2 L888.1,1181.7 L891.8,1180.2 L895.6,1178.7 L899.3,1177.1 L903.0,1175.6 L906.7,1174.0 L910.4,1172.5 L914.1,1170.9 L917.8,1169.4 L921.5,1167.8 L925.2,1166.2 L928.9,1164.7 L932.5,1163.1 L936.2,1161.5 L939.9,1159.9 L943.6,1158.3 L947.3,1156.7 L950.9,1155.1 L954.6,1153.4 L958.3,1151.8 L961.9,1150.2 L965.6,1148.5 L969.2,1146.9 L972.9,1145.2 L976.5,1143.6 L980.1,1141.9 L983.8,1140.2 L987.4,1138.5 L991.0,1136.8 L994.7,1135.1 L998.3,1133.4 L1001.9,1131.6 L1005.5,1129.9 L1009.1,1128.2 L1012.7,1126.4 L1016.3,1124.7 L1019.9,1122.9 L1023.5,1121.1 L1027.1,1119.3 L1030.6,1117.5 L1034.2,1115.7 L1037.8,1113.9 L1041.3,1112.1 L1044.9,1110.2 L1048.4,1108.4 L1052.0,1106.5 L1055.5,1104.6 L1059.1,1102.8 L1062.6,1100.9 L1066.1,1099.0 L1069.6,1097.1 L1073.1,1095.1 L1076.6,1093.2 L1080.1,1091.3 L1083.6,1089.3 L1087.1,1087.3 L1090.6,1085.3 L1094.0,1083.3 L1097.5,1081.3 L1101.0,1079.3 L1104.4,1077.3 L1107.9,1075.2 L1111.3,1073.2 L1114.7,1071.1 L1118.2,1069.0 L1121.6,1067.0 L1125.0,1064.8 L1128.4,1062.7 L1131.8,1060.6 L1135.2,1058.5 L1138.6,1056.3 L1142.0,1054.2 L1145.3,1052.0 L1148.7,1049.8 L1152.1,1047.6 L1155.4,1045.4 L1158.8,1043.2 L1162.1,1041.0 L1165.5,1038.8 L1168.8,1036.6 L1172.1,1034.3 L1175.5,1032.1 L1178.8,1029.8 L1182.1,1027.6 L1185.4,1025.3 L1188.7,1023.0 L1192.0,1020.8 L1195.3,1018.5 L1198.6,1016.2 L1201.9,1013.9 L1205.2,1011.6 L1208.5,1009.3 L1211.8,1007.0 L1215.1,1004.7 L1218.3,1002.4 L1221.6,1000.1 L1224.9,997.7 L1228.1,995.4 L1231.4,993.1 L1234.6,990.8 L1237.9,988.4 L1241.2,986.1 L1244.4,983.8 L1247.6,981.4 L1250.9,979.1 L1254.1,976.7 L1257.4,974.4 L1260.6,972.0 L1263.8,969.6 L1267.0,967.2 L1270.2,964.8 L1273.4,962.4 L1276.6,959.9 L1279.8,957.4 L1282.9,954.9 L1286.1,952.4 L1289.2,949.8 L1292.4,947.3 L1295.5,944.6 L1298.5,941.9 L1301.5,939.2 L1304.4,936.4 L1307.2,933.5 L1309.8,930.5 L1312.4,927.4 L1314.7,924.2 L1316.9,920.8 L1318.8,917.3 L1320.5,913.7 L1322.1,909.9 L1323.4,906.0 L1324.7,902.1 L1325.9,898.1 L1327.1,894.1 L1328.3,890.2 L1329.6,886.3 L1331.0,882.5 L1332.6,878.8 L1334.2,875.2 L1336.0,871.6 L1337.9,868.2 L1339.8,864.8 L1341.9,861.4 L1344.0,858.2 L1346.3,855.0 L1348.6,851.9 L1351.0,848.9 L1353.5,845.9 L1356.1,842.9 L1358.7,840.0 L1361.4,837.2 L1364.2,834.4 L1367.0,831.7 L1369.9,829.0 L1372.9,826.4 L1375.9,823.8 L1378.9,821.2 L1382.0,818.7 L1385.1,816.2 L1388.3,813.7 L1391.5,811.3 L1394.7,808.9 L1398.0,806.5 L1401.3,804.1 L1404.6,801.7 L1407.9,799.4 L1411.2,797.1 L1414.6,794.8 L1417.9,792.4 L1421.3,790.1 L1424.6,787.8 L1428.0,785.5 L1431.3,783.2 L1434.7,780.9 L1438.0,778.6 L1441.4,776.3 L1444.7,774.0 L1448.0,771.7 L1451.4,769.4 L1454.7,767.1 L1458.0,764.8 L1461.3,762.5 L1464.7,760.3 L1468.0,758.0 L1471.3,755.7 L1474.7,753.4 L1478.0,751.2 L1481.3,748.9 L1484.6,746.7 L1488.0,744.4 L1491.3,742.2 L1494.6,739.9 L1498.0,737.7 L1501.3,735.5 L1504.7,733.3 L1508.0,731.1 L1511.4,728.9 L1514.7,726.7 L1518.1,724.5 L1521.4,722.3 L1524.8,720.2 L1528.2,718.0 L1531.6,715.9 L1534.9,713.8 L1538.3,711.7 L1541.7,709.6 L1545.1,707.5 L1548.5,705.4 L1552.0,703.3 L1555.4,701.3 L1558.8,699.2 L1562.2,697.2 L1565.7,695.2 L1569.1,693.2 L1572.6,691.2 L1576.1,689.3 L1579.5,687.3 L1583.0,685.4 L1586.5,683.4 L1590.0,681.5 L1593.6,679.6 L1597.1,677.8 L1600.6,675.9 L1604.1,674.1 L1607.7,672.2 L1611.3,670.4 L1614.8,668.6 L1618.4,666.8 L1622.0,665.0 L1625.5,663.2 L1629.1,661.5 L1632.7,659.7 L1636.3,658.0 L1640.0,656.3 L1643.6,654.5 L1647.2,652.8 L1650.8,651.1 L1654.5,649.5 L1658.1,647.8 L1661.8,646.1 L1665.4,644.5 L1669.1,642.8 L1672.7,641.2 L1676.4,639.6 L1680.1,637.9 L1683.7,636.3 L1687.4,634.7 L1691.1,633.1 L1694.8,631.5 L1698.5,629.9 L1702.2,628.4 L1705.9,626.8 L1709.6,625.2 L1713.3,623.7 L1717.0,622.1 L1720.7,620.6 L1724.4,619.0 L1728.2,617.5 L1731.9,616.0 L1735.6,614.4 L1739.3,612.9 L1743.1,611.4 L1746.8,609.9 L1750.5,608.3 L1754.2,606.8 L1758.0,605.3 L1761.7,603.8 L1765.4,602.3 L1769.2,600.8 L1772.9,599.3 L1776.7,597.8 L1780.4,596.3 L1784.1,594.8 L1787.9,593.3 L1791.6,591.8 L1795.3,590.3 L1799.1,588.8 L1802.8,587.3 L1806.5,585.8 L1810.3,584.3 L1814.0,582.8 L1817.7,581.3 L1821.5,579.8 L1825.2,578.3 L1828.9,576.8 L1832.6,575.3 L1836.4,573.8 L1840.1,572.3 L1843.8,570.8 L1847.5,569.3 L1851.3,567.8 L1855.0,566.3 L1858.7,564.8 L1862.4,563.3 L1866.2,561.8 L1869.9,560.3 L1873.6,558.8 L1877.3,557.3 L1881.1,555.8 L1884.8,554.3 L1888.5,552.8 L1892.2,551.3 L1896.0,549.8 L1899.7,548.3 L1903.4,546.8 L1907.1,545.3 L1910.9,543.9 L1914.6,542.4 L1918.3,540.9 L1922.0,539.4 L1925.8,537.9 L1929.5,536.5 L1933.2,535.0 L1936.9,533.5 L1940.7,532.0 L1944.4,530.6 L1948.1,529.1 L1951.8,527.6 L1955.6,526.2 L1959.3,524.7 L1963.0,523.3 L1966.8,521.8 L1970.5,520.4 L1974.2,518.9 L1978.0,517.5 L1981.7,516.1 L1985.4,514.6 L1989.2,513.2 L1992.9,511.8 L1996.7,510.3 L2000.4,508.9 L2004.1,507.5 L2007.9,506.1 L2011.6,504.7 L2015.4,503.3 L2019.1,501.9 L2022.9,500.5 L2026.6,499.1 L2030.4,497.7 L2034.1,496.3 L2037.9,494.9 L2041.6,493.5 L2045.4,492.2 L2049.2,490.8 L2052.9,489.4 L2056.7,488.1 L2060.4,486.7 L2064.2,485.4 L2068.0,484.0 L2071.7,482.7 L2075.5,481.4 L2079.3,480.0 L2083.1,478.7 L2086.8,477.4 L2090.6,476.1 L2094.4,474.8 L2098.2,473.5 L2102.0,472.2 L2105.8,470.9 L2109.6,469.6 L2113.3,468.4 L2117.1,467.1 L2120.9,465.8 L2124.7,464.6 L2128.5,463.3 L2132.3,462.1 L2136.2,460.9 L2140.0,459.6 L2143.8,458.4 L2147.6,457.2 L2151.4,456.0 L2155.2,454.8 L2159.1,453.6 L2162.9,452.4 L2166.7,451.2 L2170.5,450.1 L2174.4,448.9 L2178.2,447.7 L2182.1,446.6 L2185.9,445.4 L2189.8,444.3 L2193.6,443.2 L2197.5,442.1 L2201.3,441.0 L2205.2,439.9 L2209.0,438.8 L2212.9,437.7 L2216.8,436.6 L2220.6,435.5 L2224.5,434.5 L2228.4,433.4 L2232.3,432.4 L2236.2,431.3 L2240.1,430.3 L2244.0,429.3 L2247.9,428.3 L2251.8,427.3 L2255.7,426.3 L2259.6,425.3 L2263.5,424.4 L2267.4,423.4 L2271.3,422.5 L2275.2,421.5 L2279.2,420.6 L2283.1,419.7 L2287.0,418.7 L2291.0,417.8" stroke="#0000ff"/>
<path d="M373.0,908.3 L377.0,908.2 L381.0,908.2 L385.1,908.1 L389.1,908.0 L393.1,907.9 L397.1,907.8 L401.1,907.7 L405.1,907.7 L409.1,907.6 L413.1,907.5 L417.1,907.4 L421.2,907.3 L425.2,907.2 L429.2,907.1 L433.2,907.0 L437.2,906.9 L441.2,906.8 L445.2,906.6 L449.2,906.5 L453.3,906.4 L457.3,906.3 L461.3,906.2 L465.3,906.1 L469.3,906.0 L473.3,905.8 L477.3,905.7 L481.3,905.6 L485.3,905.5 L489.4,905.3 L493.4,905.2 L497.4,905.1 L501.4,905.0 L505.4,904.8 L509.4,904.7 L513.4,904.5 L517.4,904.4 L521.5,904.3 L525.5,904.1 L529.5,904.0 L533.5,903.8 L537.5,903.7 L541.5,903.6 L545.5,903.4 L549.5,903.3 L553.5,903.1 L557.5,903.0 L561.6,902.8 L565.6,902.7 L569.6,902.5 L573.6,902.4 L577.6,902.2 L581.6,902.0 L585.6,901.9 L589.6,901.7 L593.6,901.6 L597.7,901.4 L601.7,901.2 L605.7,901.1 L609.7,900.9 L613.7,900.8 L617.7,900.6 L621.7,900.4 L625.7,900.3 L629.7,900.1 L633.8,899.9 L637.8,899.8 L641.8,899.6 L645.8,899.4 L649.8,899.2 L653.8,899.1 L657.8,898.9 L661.8,898.7 L665.8,898.6 L669.8,898.4 L673.9,898.2 L677.9,898.0 L681.9,897.9 L685.9,897.7 L689.9,897.5 L693.9,897.3 L697.9,897.1 L701.9,897.0 L705.9,896.8 L709.9,896.6 L714.0,896.4 L718.0,896.2 L722.0,896.1 L726.0,895.9 L730.0,895.7 L734.0,895.5 L738.0,895.3 L742.0,895.2 L746.0,895.0 L750.0,894.8 L754.1,894.6 L758.1,894.4 L762.1,894.3 L766.1,894.1 L770.1,893.9 L774.1,893.7 L778.1,893.5 L782.1,893.4 L786.1,893.2 L790.1,893.0 L794.2,892.8 L798.2,892.6 L802.2,892.4 L806.2,892.3 L810.2,892.1 L814.2,891.9 L818.2,891.7 L822.2,891.5 L826.2,891.4 L830.2,891.2 L834.3,891.0 L838.3,890.8 L842.3,890.7 L846.3,890.5 L850.3,890.3 L854.3,890.1 L858.3,889.9 L862.3,889.8 L866.3,889.6 L870.3,889.4 L874.4,889.2 L878.4,889.1 L882.4,888.9 L886.4,888.7 L890.4,888.5 L894.4,888.4 L898.4,888.2 L902.4,888.0 L906.4,887.9 L910.5,887.7 L914.5,887.5 L918.5,887.4 L922.5,887.2 L926.5,887.0 L930.5,886.9 L934.5,886.7 L938.5,886.5 L942.5,886.4 L946.5,886.2 L950.6,886.1 L954.6,885.9 L958.6,885.7 L962.6,885.6 L966.6,885.4 L970.6,885.3 L974.6,885.1 L978.6,885.0 L982.6,884.8 L986.7,884.7 L990.7,884.5 L994.7,884.4 L998.7,884.2 L1002.7,884.1 L1006.7,883.9 L1010.7,883.8 L1014.7,883.6 L1018.7,883.5 L1022.8,883.3 L1026.8,883.2 L1030.8,883.1 L1034.8,882.9 L1038.8,882.8 L1042.8,882.7 L1046.8,882.5 L1050.8,882.4 L1054.8,882.3 L1058.9,882.1 L1062.9,882.0 L1066.9,881.9 L1070.9,881.8 L1074.9,881.6 L1078.9,881.5 L1082.9,881.4 L1086.9,881.3 L1091.0,881.1 L1095.0,881.0 L1099.0,880.9 L1103.0,880.8 L1107.0,880.7 L1111.0,880.6 L1115.0,880.4 L1119.0,880.3 L1123.0,880.2 L1127.1,880.1 L1131.1,880.0 L1135.1,879.9 L1139.1,879.8 L1143.1,879.7 L1147.1,879.6 L1151.1,879.5 L1155.1,879.4 L1159.2,879.3 L1163.2,879.2 L1167.2,879.1 L1171.2,879.0 L1175.2,878.9 L1179.2,878.8 L1183.2,878.7 L1187.2,878.6 L1191.3,878.5 L1195.3,878.4 L1199.3,878.3 L1203.3,878.2 L1207.3,878.1 L1211.3,878.0 L1215.3,877.9 L1219.3,877.8 L1223.4,877.7 L1227.4,877.7 L1231.4,877.6 L1235.4,877.5 L1239.4,877.4 L1243.4,877.3 L1247.4,877.2 L1251.4,877.2 L1255.5,877.1 L1259.5,877.0 L1263.5,876.9 L1267.5,876.8 L1271.5,876.8 L1275.5,876.7 L1279.5,876.6 L1283.5,876.5 L1287.6,876.5 L1291.6,876.4 L1295.6,876.3 L1299.6,876.3 L1303.6,876.2 L1307.6,876.1 L1311.6,876.0 L1315.6,876.0 L1319.7,875.9 L1323.7,875.8 L1327.7,875.8 L1331.7,875.7 L1335.7,875.7 L1339.7,875.6 L1343.7,875.5 L1347.8,875.5 L1351.8,875.4 L1355.8,875.3 L1359.8,875.3 L1363.8,875.2 L1367.8,875.2 L1371.8,875.1 L1375.8,875.1 L1379.9,875.0 L1383.9,874.9 L1387.9,874.9 L1391.9,874.8 L1395.9,874.8 L1399.9,874.7 L1403.9,874.7 L1408.0,874.6 L1412.0,874.6 L1416.0,874.5 L1420.0,874.5 L1424.0,874.4 L1428.0,874.4 L1432.0,874.3 L1436.0,874.3 L1440.1,874.2 L1444.1,874.2 L1448.1,874.1 L1452.1,874.1 L1456.1,874.1 L1460.1,874.0 L1464.1,874.0 L1468.2,873.9 L1472.2,873.9 L1476.2,873.8 L1480.2,873.8 L1484.2,873.8 L1488.2,873.7 L1492.2,873.7 L1496.3,873.6 L1500.3,873.6 L1504.3,873.6 L1508.3,873.5 L1512.3,873.5 L1516.3,873.5 L1520.3,873.4 L1524.3,873.4 L1528.4,873.3 L1532.4,873.3 L1536.4,873.3 L1540.4,873.2 L1544.4,873.2 L1548.4,873.2 L1552.4,873.1 L1556.5,873.1 L1560.5,873.1 L1564.5,873.1 L1568.5,873.0 L1572.5,873.0 L1576.5,873.0 L1580.5,872.9 L1584.6,872.9 L1588.6,872.9 L1592.6,872.8 L1596.6,872.8 L1600.6,872.8 L1604.6,872.8 L1608.6,872.7 L1612.7,872.7 L1616.7,872.7 L1620.7,872.7 L1624.7,872.6 L1628.7,872.6 L1632.7,872.6 L1636.7,872.6 L1640.8,872.5 L1644.8,872.5 L1648.8,872.5 L1652.8,872.5 L1656.8,872.4 L1660.8,872.4 L1664.8,872.4 L1668.9,872.4 L1672.9,872.4 L1676.9,872.3 L1680.9,872.3 L1684.9,872.3 L1688.9,872.3 L1692.9,872.3 L1697.0,872.2 L1701.0,872.2 L1705.0,872.2 L1709.0,872.2 L1713.0,872.2 L1717.0,872.1 L1721.0,872.1 L1725.1,872.1 L1729.1,872.1 L1733.1,872.1 L1737.1,872.0 L1741.1,872.0 L1745.1,872.0 L1749.1,872.0 L1753.2,872.0 L1757.2,872.0 L1761.2,871.9 L1765.2,871.9 L1769.2,871.9 L1773.2,871.9 L1777.2,871.9 L1781.3,871.8 L1785.3,871.8 L1789.3,871.8 L1793.3,871.8 L1797.3,871.8 L1801.3,871.8 L1805.3,871.7 L1809.4,871.7 L1813.4,871.7 L1817.4,871.7 L1821.4,871.7 L1825.4,871.7 L1829.4,871.7 L1833.4,871.6 L1837.4,871.6 L1841.5,871.6 L1845.5,871.6 L1849.5,871.6 L1853.5,871.6 L1857.5,871.5 L1861.5,871.5 L1865.5,871.5 L1869.6,871.5 L1873.6,871.5 L1877.6,871.5 L1881.6,871.4 L1885.6,871.4 L1889.6,871.4 L1893.6,871.4 L1897.7,871.4 L1901.7,871.4 L1905.7,871.3 L1909.7,871.3 L1913.7,871.3 L1917.7,871.3 L1921.7,871.3 L1925.8,871.3 L1929.8,871.2 L1933.8,871.2 L1937.8,871.2 L1941.8,871.2 L1945.8,871.2 L1949.8,871.2 L1953.9,871.1 L1957.9,871.1 L1961.9,871.1 L1965.9,871.1 L1969.9,871.1 L1973.9,871.0 L1977.9,871.0 L1982.0,871.0 L1986.0,871.0 L1990.0,871.0 L1994.0,870.9 L1998.0,870.9 L2002.0,870.9 L2006.0,870.9 L2010.1,870.9 L2014.1,870.8 L2018.1,870.8 L2022.1,870.8 L2026.1,870.8 L2030.1,870.8 L2034.1,870.7 L2038.2,870.7 L2042.2,870.7 L2046.2,870.7 L2050.2,870.6 L2054.2,870.6 L2058.2,870.6 L2062.2,870.6 L2066.3,870.6 L2070.3,870.5 L2074.3,870.5 L2078.3,870.5 L2082.3,870.5 L2086.3,870.4 L2090.3,870.4 L2094.3,870.4 L2098.4,870.3 L2102.4,870.3 L2106.4,870.3 L2110.4,870.3 L2114.4,870.2 L2118.4,870.2 L2122.4,870.2 L2126.5,870.1 L2130.5,870.1 L2134.5,870.1 L2138.5,870.1 L2142.5,870.0 L2146.5,870.0 L2150.5,870.0 L2154.6,869.9 L2158.6,869.9 L2162.6,869.9 L2166.6,869.8 L2170.6,869.8 L2174.6,869.8 L2178.6,869.7 L2182.6,869.7 L2186.7,869.6 L2190.7,869.6 L2194.7,869.6 L2198.7,869.5 L2202.7,869.5 L2206.7,869.5 L2210.7,869.4 L2214.8,869.4 L2218.8,869.3 L2222.8,869.3 L2226.8,869.3 L2230.8,869.2 L2234.8,869.2 L2238.8,869.1 L2242.8,869.1 L2246.9,869.0 L2250.9,869.0 L2254.9,869.0 L2258.9,868.9 L2262.9,868.9 L2266.9,868.8 L2270.9,868.8 L2274.9,868.7 L2279.0,868.7 L2283.0,868.6 L2287.0,868.6 L2291.0,868.5" stroke="#ff0000"/>
<path d="M373.0,907.5 L377.0,907.5 L381.0,907.4 L385.0,907.3 L389.1,907.3 L393.1,907.2 L397.1,907.1 L401.1,907.1 L405.1,907.0 L409.1,907.0 L413.1,906.9 L417.1,906.8 L421.2,906.8 L425.2,906.7 L429.2,906.7 L433.2,906.6 L437.2,906.6 L441.2,906.5 L445.2,906.5 L449.2,906.4 L453.3,906.4 L457.3,906.3 L461.3,906.3 L465.3,906.2 L469.3,906.2 L473.3,906.1 L477.3,906.1 L481.4,906.0 L485.4,906.0 L489.4,905.9 L493.4,905.9 L497.4,905.8 L501.4,905.8 L505.4,905.8 L509.5,905.7 L513.5,905.7 L517.5,905.7 L521.5,905.6 L525.5,905.6 L529.5,905.5 L533.5,905.5 L537.5,905.5 L541.6,905.4 L545.6,905.4 L549.6,905.4 L553.6,905.3 L557.6,905.3 L561.6,905.3 L565.6,905.2 L569.7,905.2 L573.7,905.2 L577.7,905.2 L581.7,905.1 L585.7,905.1 L589.7,905.1 L593.7,905.0 L597.8,905.0 L601.8,905.0 L605.8,905.0 L609.8,904.9 L613.8,904.9 L617.8,904.9 L621.8,904.9 L625.8,904.8 L629.9,904.8 L633.9,904.8 L637.9,904.8 L641.9,904.8 L645.9,904.7 L649.9,904.7 L653.9,904.7 L658.0,904.7 L662.0,904.7 L666.0,904.6 L670.0,904.6 L674.0,904.6 L678.0,904.6 L682.0,904.6 L686.1,904.5 L690.1,904.5 L694.1,904.5 L698.1,904.5 L702.1,904.5 L706.1,904.5 L710.1,904.4 L714.2,904.4 L718.2,904.4 L722.2,904.4 L726.2,904.4 L730.2,904.4 L734.2,904.4 L738.2,904.3 L742.2,904.3 L746.3,904.3 L750.3,904.3 L754.3,904.3 L758.3,904.3 L762.3,904.3 L766.3,904.3 L770.3,904.2 L774.4,904.2 L778.4,904.2 L782.4,904.2 L786.4,904.2 L790.4,904.2 L794.4,904.2 L798.4,904.2 L802.5,904.1 L806.5,904.1 L810.5,904.1 L814.5,904.1 L818.5,904.1 L822.5,904.1 L826.5,904.1 L830.6,904.1 L834.6,904.0 L838.6,904.0 L842.6,904.0 L846.6,904.0 L850.6,904.0 L854.6,904.0 L858.7,904.0 L862.7,904.0 L866.7,904.0 L870.7,903.9 L874.7,903.9 L878.7,903.9 L882.7,903.9 L886.8,903.9 L890.8,903.9 L894.8,903.9 L898.8,903.9 L902.8,903.8 L906.8,903.8 L910.8,903.8 L914.8,903.8 L918.9,903.8 L922.9,903.8 L926.9,903.8 L930.9,903.8 L934.9,903.7 L938.9,903.7 L942.9,903.7 L947.0,903.7 L951.0,903.7 L955.0,903.7 L959.0,903.7 L963.0,903.6 L967.0,903.6 L971.0,903.6 L975.1,903.6 L979.1,903.6 L983.1,903.6 L987.1,903.5 L991.1,903.5 L995.1,903.5 L999.1,903.5 L1003.2,903.5 L1007.2,903.4 L1011.2,903.4 L1015.2,903.4 L1019.2,903.4 L1023.2,903.4 L1027.2,903.3 L1031.2,903.3 L1035.3,903.3 L1039.3,903.3 L1043.3,903.3 L1047.3,903.2 L1051.3,903.2 L1055.3,903.2 L1059.3,903.2 L1063.4,903.1 L1067.4,903.1 L1071.4,903.1 L1075.4,903.1 L1079.4,903.0 L1083.4,903.0 L1087.4,903.0 L1091.5,902.9 L1095.5,902.9 L1099.5,902.9 L1103.5,902.8 L1107.5,902.8 L1111.5,902.8 L1115.5,902.8 L1119.5,902.7 L1123.6,902.7 L1127.6,902.7 L1131.6,902.6 L1135.6,902.6 L1139.6,902.5 L1143.6,902.5 L1147.6,902.5 L1151.7,902.4 L1155.7,902.4 L1159.7,902.4 L1163.7,902.3 L1167.7,902.3 L1171.7,902.2 L1175.7,902.2 L1179.7,902.1 L1183.8,902.1 L1187.8,902.1 L1191.8,902.0 L1195.8,902.0 L1199.8,901.9 L1203.8,901.9 L1207.8,901.8 L1211.9,901.8 L1215.9,901.7 L1219.9,901.7 L1223.9,901.6 L1227.9,901.6 L1231.9,901.5 L1235.9,901.5 L1239.9,901.4 L1244.0,901.4 L1248.0,901.3 L1252.0,901.2 L1256.0,901.2 L1260.0,901.1 L1264.0,901.1 L1268.0,901.0 L1272.0,900.9 L1276.1,900.9 L1280.1,900.8 L1284.1,900.7 L1288.1,900.7 L1292.1,900.6 L1296.1,900.5 L1300.1,900.5 L1304.2,900.4 L1308.2,900.3 L1312.2,900.3 L1316.2,900.2 L1320.2,900.1 L1324.2,900.0 L1328.2,900.0 L1332.2,899.9 L1336.3,899.8 L1340.3,899.7 L1344.3,899.7 L1348.3,899.6 L1352.3,899.5 L1356.3,899.4 L1360.3,899.3 L1364.3,899.2 L1368.4,899.2 L1372.4,899.1 L1376.4,899.0 L1380.4,898.9 L1384.4,898.8 L1388.4,898.7 L1392.4,898.6 L1396.4,898.5 L1400.5,898.5 L1404.5,898.4 L1408.5,898.3 L1412.5,898.2 L1416.5,898.1 L1420.5,898.0 L1424.5,897.9 L1428.5,897.8 L1432.6,897.7 L1436.6,897.6 L1440.6,897.5 L1444.6,897.4 L1448.6,897.3 L1452.6,897.2 L1456.6,897.1 L1460.6,897.0 L1464.6,896.9 L1468.7,896.8 L1472.7,896.7 L1476.7,896.6 L1480.7,896.4 L1484.7,896.3 L1488.7,896.2 L1492.7,896.1 L1496.7,896.0 L1500.8,895.9 L1504.8,895.8 L1508.8,895.7 L1512.8,895.6 L1516.8,895.4 L1520.8,895.3 L1524.8,895.2 L1528.8,895.1 L1532.9,895.0 L1536.9,894.9 L1540.9,894.8 L1544.9,894.6 L1548.9,894.5 L1552.9,894.4 L1556.9,894.3 L1560.9,894.2 L1564.9,894.0 L1569.0,893.9 L1573.0,893.8 L1577.0,893.7 L1581.0,893.5 L1585.0,893.4 L1589.0,893.3 L1593.0,893.2 L1597.0,893.0 L1601.1,892.9 L1605.1,892.8 L1609.1,892.7 L1613.1,892.5 L1617.1,892.4 L1621.1,892.3 L1625.1,892.1 L1629.1,892.0 L1633.1,891.9 L1637.2,891.8 L1641.2,891.6 L1645.2,891.5 L1649.2,891.4 L1653.2,891.2 L1657.2,891.1 L1661.2,891.0 L1665.2,890.8 L1669.3,890.7 L1673.3,890.6 L1677.3,890.4 L1681.3,890.3 L1685.3,890.1 L1689.3,890.0 L1693.3,889.9 L1697.3,889.7 L1701.3,889.6 L1705.4,889.5 L1709.4,889.3 L1713.4,889.2 L1717.4,889.0 L1721.4,888.9 L1725.4,888.8 L1729.4,888.6 L1733.4,888.5 L1737.4,888.3 L1741.5,888.2 L1745.5,888.1 L1749.5,887.9 L1753.5,887.8 L1757.5,887.6 L1761.5,887.5 L1765.5,887.3 L1769.5,887.2 L1773.5,887.1 L1777.6,886.9 L1781.6,886.8 L1785.6,886.6 L1789.6,886.5 L1793.6,886.3 L1797.6,886.2 L1801.6,886.0 L1805.6,885.9 L1809.7,885.7 L1813.7,885.6 L1817.7,885.5 L1821.7,885.3 L1825.7,885.2 L1829.7,885.0 L1833.7,884.9 L1837.7,884.7 L1841.7,884.6 L1845.8,884.4 L1849.8,884.3 L1853.8,884.1 L1857.8,884.0 L1861.8,883.8 L1865.8,883.7 L1869.8,883.5 L1873.8,883.4 L1877.8,883.2 L1881.9,883.1 L1885.9,882.9 L1889.9,882.8 L1893.9,882.6 L1897.9,882.5 L1901.9,882.3 L1905.9,882.2 L1909.9,882.0 L1913.9,881.9 L1918.0,881.7 L1922.0,881.6 L1926.0,881.4 L1930.0,881.3 L1934.0,881.1 L1938.0,881.0 L1942.0,880.8 L1946.0,880.7 L1950.0,880.5 L1954.1,880.4 L1958.1,880.2 L1962.1,880.1 L1966.1,879.9 L1970.1,879.8 L1974.1,879.6 L1978.1,879.5 L1982.1,879.3 L1986.1,879.2 L1990.2,879.0 L1994.2,878.9 L1998.2,878.7 L2002.2,878.6 L2006.2,878.4 L2010.2,878.3 L2014.2,878.1 L2018.2,878.0 L2022.2,877.8 L2026.3,877.7 L2030.3,877.5 L2034.3,877.4 L2038.3,877.2 L2042.3,877.1 L2046.3,876.9 L2050.3,876.8 L2054.3,876.6 L2058.3,876.5 L2062.4,876.3 L2066.4,876.2 L2070.4,876.0 L2074.4,875.9 L2078.4,875.7 L2082.4,875.6 L2086.4,875.5 L2090.4,875.3 L2094.4,875.2 L2098.5,875.0 L2102.5,874.9 L2106.5,874.7 L2110.5,874.6 L2114.5,874.4 L2118.5,874.3 L2122.5,874.1 L2126.5,874.0 L2130.5,873.9 L2134.6,873.7 L2138.6,873.6 L2142.6,873.4 L2146.6,873.3 L2150.6,873.1 L2154.6,873.0 L2158.6,872.8 L2162.6,872.7 L2166.6,872.6 L2170.7,872.4 L2174.7,872.3 L2178.7,872.1 L2182.7,872.0 L2186.7,871.9 L2190.7,871.7 L2194.7,871.6 L2198.7,871.4 L2202.7,871.3 L2206.8,871.2 L2210.8,871.0 L2214.8,870.9 L2218.8,870.8 L2222.8,870.6 L2226.8,870.5 L2230.8,870.3 L2234.8,870.2 L2238.8,870.1 L2242.9,869.9 L2246.9,869.8 L2250.9,869.7 L2254.9,869.5 L2258.9,869.4 L2262.9,869.3 L2266.9,869.1 L2270.9,869.0 L2275.0,868.9 L2279.0,868.7 L2283.0,868.6 L2287.0,868.5 L2291.0,868.4" stroke="#ff0000"/>
</g>
<g font-weight="bold" font-size="66">
<text x="2325.9" y="141.5" fill="#00ff00">c</text>
<text x="2319" y="329.5" fill="#000">a</text>
<text x="2321.9" y="438" fill="#0000ff">d</text>
<text x="2326.9" y="875" fill="#ff0000">b</text>
</g>
<text transform="translate(1410,176) scale(0.935,1)" font-weight="bold" font-size="82" fill="#000"><tspan x="0" y="0">T</tspan><tspan x="47.4">=</tspan><tspan x="96.3">3</tspan><tspan x="139.8">0</tspan><tspan x="182">0</tspan><tspan x="249.5">K</tspan></text>
<rect x="317" y="68.5" width="870" height="729.5" fill="none" stroke="#000" stroke-width="3.5"/>
<g stroke="#000" stroke-width="3.5" stroke-linecap="round"><line x1="319" y1="130.3" x2="324" y2="130.3"/><line x1="319" y1="189.8" x2="331" y2="189.8"/><line x1="319" y1="252.0" x2="324" y2="252.0"/><line x1="319" y1="311.0" x2="324" y2="311.0"/><line x1="319" y1="374.0" x2="324" y2="374.0"/><line x1="319" y1="496.0" x2="324" y2="496.0"/><line x1="319" y1="555.2" x2="324" y2="555.2"/><line x1="319" y1="617.4" x2="324" y2="617.4"/><line x1="319" y1="678.4" x2="331" y2="678.4"/><line x1="319" y1="739.4" x2="324" y2="739.4"/><line x1="367.2" y1="796" x2="367.2" y2="791"/><line x1="495.5" y1="796" x2="495.5" y2="784"/><line x1="623.8" y1="796" x2="623.8" y2="791"/><line x1="752.0" y1="796" x2="752.0" y2="784"/><line x1="880.2" y1="796" x2="880.2" y2="791"/><line x1="1008.5" y1="796" x2="1008.5" y2="784"/><line x1="1136.8" y1="796" x2="1136.8" y2="791"/></g>
<g clip-path="url(#c1)">
<line x1="317" y1="432.6" x2="1187" y2="432.6" stroke="#000" stroke-width="3.5"/>
<line x1="752" y1="68" x2="752" y2="798" stroke="#000" stroke-width="3.5"/>
<g fill="none" stroke="#000" stroke-width="6" stroke-linejoin="round">
<path d="M859.9,49.2 L856.6,51.6 L853.3,54.1 L850.0,56.6 L846.8,59.2 L843.6,61.7 L840.5,64.3 L837.3,66.9 L834.2,69.5 L831.1,72.2 L828.0,74.8 L825.0,77.5 L822.0,80.2 L819.0,83.0 L816.1,85.7 L813.1,88.5 L810.2,91.3 L807.3,94.1 L804.4,96.9 L801.6,99.7 L798.8,102.6 L796.0,105.5 L793.2,108.4 L790.5,111.3 L787.7,114.2 L785.0,117.2 L782.3,120.1 L779.7,123.1 L777.0,126.1 L774.4,129.1 L771.8,132.2 L769.2,135.2 L766.6,138.3 L764.0,141.3 L761.5,144.4 L759.0,147.5 L756.5,150.6 L754.0,153.8 L751.5,156.9 L749.1,160.1 L746.7,163.3 L744.3,166.4 L741.9,169.6 L739.5,172.9 L737.1,176.1 L734.7,179.3 L732.4,182.6 L730.1,185.8 L727.8,189.1 L725.5,192.4 L723.2,195.7 L720.9,199.0 L718.6,202.3 L716.4,205.6 L714.2,208.9 L711.9,212.3 L709.7,215.6 L707.5,219.0 L705.3,222.3 L703.1,225.7 L701.0,229.1 L698.8,232.5 L696.6,235.9 L694.5,239.3 L692.4,242.7 L690.2,246.1 L688.1,249.5 L686.0,252.9 L683.9,256.4 L681.8,259.8 L679.7,263.3 L677.6,266.7 L675.5,270.2 L673.5,273.6 L671.4,277.1 L669.3,280.6 L667.3,284.0 L665.2,287.5 L663.2,291.0 L661.1,294.5 L659.1,298.0 L657.0,301.5 L655.0,305.0 L653.0,308.4 L650.9,311.9 L648.9,315.4 L646.9,318.9 L644.8,322.4 L642.8,325.9 L640.8,329.4 L638.8,332.9 L636.7,336.4 L634.7,339.9 L632.7,343.4 L630.6,346.9 L628.6,350.4 L626.6,353.9 L624.5,357.4 L622.5,360.9 L620.5,364.4 L618.4,367.9 L616.4,371.3 L614.3,374.8 L612.3,378.3 L610.2,381.8 L608.1,385.3 L606.1,388.7 L604.0,392.2 L601.9,395.6 L599.8,399.1 L597.7,402.5 L595.7,406.0 L593.5,409.4 L591.4,412.8 L589.3,416.3 L587.2,419.7 L585.0,423.1 L582.9,426.5 L580.7,429.9 L578.6,433.3 L576.4,436.7 L574.2,440.0 L572.0,443.4 L569.8,446.7 L567.6,450.1 L565.3,453.4 L563.0,456.7 L560.8,460.0 L558.5,463.3 L556.2,466.5 L553.8,469.8 L551.5,473.0 L549.1,476.2 L546.7,479.4 L544.2,482.5 L541.8,485.7 L539.3,488.8 L536.8,491.9 L534.3,495.0 L531.8,498.0 L529.2,501.0 L526.6,504.1 L523.9,507.0 L521.3,510.0 L518.6,512.9 L515.8,515.8 L513.1,518.7 L510.3,521.5 L507.5,524.3 L504.6,527.1 L501.7,529.9 L498.8,532.6 L495.9,535.3 L493.0,538.0 L490.0,540.7 L487.0,543.3 L484.0,546.0 L480.9,548.6 L477.9,551.2 L474.8,553.7 L471.7,556.3 L468.6,558.8 L465.4,561.3 L462.3,563.9 L459.1,566.3 L455.9,568.8 L452.7,571.3 L449.5,573.7 L446.3,576.1 L443.0,578.6 L439.8,581.0 L436.5,583.4 L433.2,585.7 L430.0,588.1 L426.7,590.5 L423.4,592.8 L420.1,595.2 L416.8,597.6 L413.5,599.9 L410.2,602.3 L406.9,604.6 L403.5,606.9 L400.2,609.3 L396.9,611.6 L393.6,614.0 L390.3,616.3 L387.0,618.7 L383.8,621.1 L380.5,623.4 L377.2,625.8 L373.9,628.2 L370.7,630.6 L367.4,633.0 L364.2,635.4 L361.0,637.9 L357.8,640.3 L354.6,642.8 L351.4,645.2 L348.3,647.7 L345.1,650.3 L342.0,652.8 L338.9,655.3 L335.8,657.9 L332.8,660.5 L329.7,663.1 L326.7,665.8 L323.7,668.4 L320.8,671.1 L317.8,673.9 L314.9,676.6 L312.0,679.4 L309.2,682.2 L306.4,685.0 L303.6,687.9 L300.8,690.8"/>
<path d="M639.1,829.2 L641.8,826.3 L644.6,823.4 L647.4,820.4 L650.1,817.5 L652.9,814.5 L655.6,811.6 L658.4,808.7 L661.1,805.7 L663.8,802.8 L666.6,799.8 L669.3,796.9 L672.0,793.9 L674.8,790.9 L677.5,788.0 L680.2,785.0 L682.9,782.0 L685.6,779.0 L688.3,776.1 L691.0,773.1 L693.7,770.1 L696.4,767.1 L699.1,764.1 L701.8,761.1 L704.5,758.1 L707.1,755.1 L709.8,752.1 L712.5,749.0 L715.1,746.0 L717.8,743.0 L720.4,740.0 L723.0,736.9 L725.7,733.9 L728.3,730.8 L730.9,727.8 L733.5,724.7 L736.1,721.7 L738.7,718.6 L741.3,715.5 L743.9,712.5 L746.5,709.4 L749.1,706.3 L751.7,703.2 L754.2,700.1 L756.8,697.0 L759.3,693.9 L761.9,690.8 L764.4,687.6 L766.9,684.5 L769.4,681.4 L771.9,678.2 L774.4,675.1 L776.9,671.9 L779.4,668.8 L781.9,665.6 L784.4,662.4 L786.8,659.3 L789.3,656.1 L791.7,652.9 L794.2,649.7 L796.6,646.5 L799.0,643.3 L801.4,640.0 L803.8,636.8 L806.2,633.6 L808.6,630.3 L810.9,627.1 L813.3,623.8 L815.7,620.6 L818.0,617.3 L820.3,614.0 L822.7,610.7 L825.0,607.4 L827.3,604.1 L829.6,600.8 L831.8,597.5 L834.1,594.2 L836.4,590.9 L838.7,587.5 L840.9,584.2 L843.2,580.9 L845.4,577.5 L847.7,574.2 L850.0,570.9 L852.2,567.5 L854.5,564.2 L856.8,560.9 L859.0,557.5 L861.3,554.2 L863.6,550.9 L865.9,547.6 L868.2,544.3 L870.5,541.1 L872.9,537.8 L875.2,534.5 L877.6,531.3 L880.0,528.0 L882.3,524.8 L884.8,521.6 L887.2,518.4 L889.6,515.3 L892.1,512.1 L894.6,509.0 L897.1,505.9 L899.7,502.8 L902.3,499.7 L904.9,496.7 L907.5,493.6 L910.2,490.6 L912.8,487.6 L915.5,484.7 L918.3,481.7 L921.0,478.8 L923.8,475.9 L926.5,473.0 L929.3,470.1 L932.1,467.2 L934.9,464.3 L937.8,461.5 L940.6,458.6 L943.4,455.8 L946.3,452.9 L949.1,450.1 L952.0,447.2 L954.8,444.4 L957.7,441.5 L960.6,438.7 L963.4,435.9 L966.3,433.0 L969.1,430.2 L971.9,427.3 L974.8,424.4 L977.6,421.6 L980.4,418.7 L983.2,415.8 L986.0,412.9 L988.8,410.0 L991.6,407.1 L994.3,404.2 L997.1,401.3 L999.9,398.3 L1002.6,395.4 L1005.4,392.5 L1008.1,389.5 L1010.8,386.6 L1013.6,383.6 L1016.3,380.6 L1019.0,377.7 L1021.7,374.7 L1024.4,371.7 L1027.1,368.7 L1029.8,365.7 L1032.5,362.7 L1035.1,359.7 L1037.8,356.7 L1040.5,353.7 L1043.1,350.7 L1045.8,347.7 L1048.4,344.6 L1051.0,341.6 L1053.7,338.5 L1056.3,335.5 L1058.9,332.4 L1061.5,329.4 L1064.1,326.3 L1066.7,323.2 L1069.3,320.2 L1071.9,317.1 L1074.5,314.0 L1077.1,310.9 L1079.7,307.8 L1082.3,304.7 L1084.8,301.6 L1087.4,298.6 L1090.0,295.5 L1092.6,292.4 L1095.2,289.3 L1097.8,286.2 L1100.4,283.2 L1103.0,280.1 L1105.6,277.1 L1108.3,274.0 L1110.9,271.0 L1113.6,268.0 L1116.2,265.0 L1118.9,262.0 L1121.6,259.0 L1124.3,256.0 L1127.0,253.1 L1129.8,250.2 L1132.5,247.3 L1135.3,244.4 L1138.1,241.5 L1141.0,238.7 L1143.8,235.8 L1146.7,233.0 L1149.6,230.3 L1152.5,227.5 L1155.4,224.8 L1158.4,222.1 L1161.4,219.4 L1164.5,216.8 L1167.5,214.2 L1170.7,211.6 L1173.8,209.1 L1177.0,206.6 L1180.2,204.1 L1183.4,201.7 L1186.7,199.3 L1190.0,196.9 L1193.4,194.6 L1196.8,192.3 L1200.2,190.1"/>
<path d="M751.8,208.1 L756.1,212.7 L760.0,215.9 L763.6,217.9 L766.9,218.7 L770.1,218.6 L773.1,217.7 L776.0,216.2 L778.8,214.2 L781.6,211.9 L784.4,209.3 L787.3,206.7 L790.2,204.0 L793.2,201.3 L796.1,198.5 L799.1,195.6 L802.2,192.7 L805.2,189.8 L808.3,186.9 L811.3,184.0 L814.4,181.1 L817.5,178.2 L820.5,175.4 L823.6,172.6 L826.6,169.7 L829.7,167.0 L832.8,164.2 L835.8,161.5 L838.9,158.8 L842.0,156.1 L845.0,153.4 L848.1,150.8 L851.2,148.2 L854.3,145.6 L857.4,143.0 L860.5,140.5 L863.7,137.9 L866.8,135.4 L870.0,132.9 L873.2,130.5 L876.4,128.0 L879.6,125.6 L882.8,123.2 L886.1,120.8 L889.3,118.4 L892.6,116.1 L895.9,113.8 L899.3,111.5 L902.6,109.2 L906.0,106.9 L909.4,104.7 L912.8,102.4 L916.2,100.2 L919.7,98.0 L923.1,95.8 L926.6,93.6 L930.0,91.5 L933.5,89.3 L937.0,87.2 L940.5,85.1 L944.0,83.0 L947.5,80.9 L951.1,78.9 L954.6,76.8 L958.1,74.8 L961.7,72.8 L965.2,70.7 L968.7,68.7 L972.3,66.8 L975.8,64.8 L979.3,62.8 L982.9,60.9 L986.4,58.9 L989.9,57.0"/>
</g>
<g fill="#000"><circle cx="730.4" cy="179.2" r="10"/><circle cx="528.0" cy="531.5" r="10"/><circle cx="425.8" cy="585.6" r="10"/><circle cx="325.6" cy="673.3" r="10"/><circle cx="781.5" cy="669.0" r="10"/><circle cx="885.8" cy="517.8" r="10"/><circle cx="1066.9" cy="319.7" r="10"/><circle cx="1143.6" cy="221.8" r="10"/><circle cx="751.7" cy="207.7" r="10"/><circle cx="775.1" cy="219.2" r="10"/><circle cx="888.0" cy="111.0" r="10"/></g>
<g fill="none" stroke="#0000ff" stroke-width="7" stroke-linejoin="round">
<path d="M310.0,459.5 L314.1,459.3 L318.1,459.1 L322.1,458.8 L326.1,458.6 L330.2,458.3 L334.2,458.1 L338.2,457.8 L342.3,457.5 L346.3,457.2 L350.3,456.9 L354.3,456.6 L358.4,456.3 L362.4,456.0 L366.4,455.6 L370.4,455.3 L374.4,455.0 L378.5,454.6 L382.5,454.3 L386.5,453.9 L390.5,453.5 L394.5,453.1 L398.5,452.8 L402.6,452.4 L406.6,452.0 L410.6,451.6 L414.6,451.1 L418.6,450.7 L422.6,450.3 L426.6,449.9 L430.6,449.4 L434.6,449.0 L438.6,448.5 L442.6,448.1 L446.7,447.6 L450.7,447.2 L454.7,446.7 L458.7,446.2 L462.7,445.7 L466.7,445.3 L470.7,444.8 L474.7,444.3 L478.7,443.8 L482.7,443.3 L486.7,442.8 L490.7,442.2 L494.7,441.7 L498.7,441.2 L502.7,440.7 L506.7,440.1 L510.7,439.6 L514.7,439.1 L518.6,438.5 L522.6,438.0 L526.6,437.4 L530.6,436.9 L534.6,436.3 L538.6,435.7 L542.6,435.2 L546.6,434.6 L550.6,434.0 L554.6,433.4 L558.6,432.9 L562.6,432.3 L566.6,431.7 L570.5,431.1 L574.5,430.5 L578.5,429.9 L582.5,429.3 L586.5,428.7 L590.5,428.1 L594.5,427.5 L598.5,426.9 L602.4,426.3 L606.4,425.7 L610.4,425.1 L614.4,424.5 L618.4,423.8 L622.4,423.2 L626.4,422.6 L630.4,422.0 L634.3,421.4 L638.3,420.7 L642.3,420.1 L646.3,419.5 L650.3,418.9 L654.3,418.2 L658.2,417.6 L662.2,417.0 L666.2,416.4 L670.2,415.7 L674.2,415.1 L678.2,414.5 L682.2,413.8 L686.1,413.2 L690.1,412.6 L694.1,411.9 L698.1,411.3 L702.1,410.7 L706.1,410.0 L710.0,409.4 L714.0,408.8 L718.0,408.1 L722.0,407.5 L726.0,406.9 L730.0,406.2 L733.9,405.6 L737.9,405.0 L741.9,404.4 L745.9,403.7 L749.9,403.1 L753.9,402.5 L757.8,401.9 L761.8,401.3 L765.8,400.6 L769.8,400.0 L773.8,399.4 L777.8,398.8 L781.8,398.2 L785.7,397.6 L789.7,397.0 L793.7,396.4 L797.7,395.8 L801.7,395.2 L805.7,394.6 L809.7,394.0 L813.6,393.4 L817.6,392.8 L821.6,392.2 L825.6,391.6 L829.6,391.0 L833.6,390.4 L837.6,389.9 L841.6,389.3 L845.6,388.7 L849.5,388.2 L853.5,387.6 L857.5,387.0 L861.5,386.5 L865.5,385.9 L869.5,385.4 L873.5,384.8 L877.5,384.3 L881.5,383.8 L885.5,383.2 L889.5,382.7 L893.5,382.2 L897.5,381.7 L901.5,381.2 L905.5,380.7 L909.4,380.2 L913.4,379.7 L917.4,379.2 L921.4,378.7 L925.4,378.2 L929.4,377.7 L933.4,377.2 L937.4,376.8 L941.4,376.3 L945.4,375.9 L949.4,375.4 L953.5,375.0 L957.5,374.5 L961.5,374.1 L965.5,373.7 L969.5,373.2 L973.5,372.8 L977.5,372.4 L981.5,372.0 L985.5,371.6 L989.5,371.2 L993.5,370.9 L997.5,370.5 L1001.5,370.1 L1005.6,369.8 L1009.6,369.4 L1013.6,369.0 L1017.6,368.7 L1021.6,368.4 L1025.6,368.1 L1029.6,367.7 L1033.7,367.4 L1037.7,367.1 L1041.7,366.8 L1045.7,366.5 L1049.7,366.3 L1053.8,366.0 L1057.8,365.7 L1061.8,365.5 L1065.8,365.2 L1069.9,365.0 L1073.9,364.8 L1077.9,364.5 L1082.0,364.3 L1086.0,364.1 L1090.0,363.9 L1094.0,363.7 L1098.1,363.6 L1102.1,363.4 L1106.1,363.2 L1110.2,363.1 L1114.2,362.9 L1118.3,362.8 L1122.3,362.7 L1126.3,362.6 L1130.4,362.5 L1134.4,362.4 L1138.5,362.3 L1142.5,362.2 L1146.6,362.2 L1150.6,362.1 L1154.6,362.1 L1158.7,362.0 L1162.7,362.0 L1166.8,362.0 L1170.9,362.0 L1174.9,362.0 L1179.0,362.0 L1183.0,362.1 L1187.1,362.1 L1191.1,362.2 L1195.2,362.2"/>
<path d="M309.9,506.0 L314.0,505.7 L318.0,505.4 L322.0,505.1 L326.0,504.8 L330.0,504.5 L334.0,504.3 L338.0,504.0 L342.0,503.7 L346.0,503.5 L350.0,503.2 L354.0,502.9 L358.1,502.7 L362.1,502.4 L366.1,502.1 L370.1,501.9 L374.1,501.6 L378.1,501.4 L382.1,501.1 L386.2,500.9 L390.2,500.6 L394.2,500.4 L398.2,500.1 L402.2,499.9 L406.2,499.6 L410.2,499.4 L414.3,499.1 L418.3,498.9 L422.3,498.6 L426.3,498.3 L430.3,498.1 L434.3,497.8 L438.4,497.6 L442.4,497.3 L446.4,497.1 L450.4,496.8 L454.4,496.5 L458.4,496.3 L462.4,496.0 L466.5,495.7 L470.5,495.5 L474.5,495.2 L478.5,494.9 L482.5,494.6 L486.5,494.3 L490.5,494.1 L494.5,493.8 L498.6,493.5 L502.6,493.2 L506.6,492.9 L510.6,492.6 L514.6,492.3 L518.6,491.9 L522.6,491.6 L526.6,491.3 L530.6,491.0 L534.6,490.6 L538.6,490.3 L542.6,490.0 L546.6,489.6 L550.6,489.2 L554.6,488.9 L558.6,488.5 L562.6,488.1 L566.6,487.8 L570.6,487.4 L574.6,487.0 L578.6,486.6 L582.6,486.2 L586.6,485.7 L590.6,485.3 L594.6,484.9 L598.6,484.5 L602.6,484.0 L606.6,483.6 L610.6,483.1 L614.6,482.6 L618.5,482.1 L622.5,481.7 L626.5,481.2 L630.5,480.7 L634.5,480.1 L638.4,479.6 L642.4,479.1 L646.4,478.5 L650.4,478.0 L654.3,477.4 L658.3,476.9 L662.3,476.3 L666.3,475.7 L670.2,475.1 L674.2,474.5 L678.2,473.9 L682.1,473.3 L686.1,472.7 L690.1,472.0 L694.0,471.4 L698.0,470.8 L701.9,470.1 L705.9,469.5 L709.9,468.8 L713.8,468.1 L717.8,467.5 L721.7,466.8 L725.7,466.1 L729.6,465.4 L733.6,464.7 L737.6,464.1 L741.5,463.4 L745.5,462.7 L749.4,462.0 L753.4,461.3 L757.3,460.6 L761.3,459.8 L765.2,459.1 L769.2,458.4 L773.1,457.7 L777.1,457.0 L781.0,456.3 L785.0,455.5 L788.9,454.8 L792.9,454.1 L796.8,453.4 L800.8,452.7 L804.7,451.9 L808.7,451.2 L812.6,450.5 L816.6,449.8 L820.5,449.0 L824.5,448.3 L828.4,447.6 L832.4,446.9 L836.3,446.2 L840.3,445.5 L844.2,444.7 L848.2,444.0 L852.1,443.3 L856.1,442.6 L860.0,441.9 L864.0,441.2 L867.9,440.5 L871.9,439.8 L875.8,439.2 L879.8,438.5 L883.7,437.8 L887.7,437.1 L891.6,436.4 L895.6,435.8 L899.6,435.1 L903.5,434.5 L907.5,433.8 L911.4,433.2 L915.4,432.5 L919.4,431.9 L923.3,431.3 L927.3,430.6 L931.2,430.0 L935.2,429.4 L939.2,428.8 L943.1,428.2 L947.1,427.6 L951.1,427.0 L955.0,426.4 L959.0,425.8 L963.0,425.3 L967.0,424.7 L970.9,424.1 L974.9,423.6 L978.9,423.0 L982.8,422.5 L986.8,422.0 L990.8,421.4 L994.8,420.9 L998.8,420.4 L1002.7,419.9 L1006.7,419.4 L1010.7,418.9 L1014.7,418.4 L1018.7,417.9 L1022.6,417.5 L1026.6,417.0 L1030.6,416.6 L1034.6,416.1 L1038.6,415.7 L1042.6,415.2 L1046.6,414.8 L1050.6,414.4 L1054.6,414.0 L1058.6,413.6 L1062.6,413.2 L1066.5,412.8 L1070.5,412.5 L1074.5,412.1 L1078.5,411.8 L1082.6,411.4 L1086.6,411.1 L1090.6,410.8 L1094.6,410.4 L1098.6,410.1 L1102.6,409.8 L1106.6,409.6 L1110.6,409.3 L1114.6,409.0 L1118.6,408.7 L1122.6,408.5 L1126.7,408.3 L1130.7,408.0 L1134.7,407.8 L1138.7,407.6 L1142.7,407.4 L1146.8,407.2 L1150.8,407.0 L1154.8,406.8 L1158.8,406.7 L1162.9,406.5 L1166.9,406.3 L1170.9,406.2 L1175.0,406.1 L1179.0,406.0 L1183.0,405.9 L1187.1,405.8 L1191.1,405.7 L1195.2,405.6"/>
<path d="M751.9,408.2 L755.8,407.5 L759.8,406.7 L763.8,406.0 L767.8,405.2 L771.8,404.5 L775.7,403.8 L779.7,403.1 L783.7,402.4 L787.7,401.7 L791.7,401.0 L795.7,400.4 L799.7,399.7 L803.7,399.0 L807.7,398.4 L811.7,397.8 L815.7,397.1 L819.7,396.5 L823.7,395.9 L827.7,395.3 L831.7,394.7 L835.7,394.2 L839.7,393.6 L843.7,393.0 L847.7,392.5 L851.8,391.9 L855.8,391.4 L859.8,390.8 L863.8,390.3 L867.8,389.8 L871.8,389.3 L875.8,388.8 L879.9,388.3 L883.9,387.8 L887.9,387.3 L891.9,386.8 L896.0,386.4 L900.0,385.9 L904.0,385.5 L908.0,385.0 L912.1,384.6 L916.1,384.2 L920.1,383.7 L924.1,383.3 L928.2,382.9 L932.2,382.5 L936.2,382.1 L940.3,381.7 L944.3,381.3 L948.3,380.9 L952.4,380.6 L956.4,380.2 L960.4,379.8 L964.5,379.5 L968.5,379.1 L972.5,378.8 L976.6,378.4 L980.6,378.1 L984.7,377.8 L988.7,377.4 L992.7,377.1 L996.8,376.8 L1000.8,376.5 L1004.9,376.2 L1008.9,375.9 L1013.0,375.6 L1017.0,375.3 L1021.0,375.0 L1025.1,374.7 L1029.1,374.5 L1033.2,374.2 L1037.2,373.9 L1041.3,373.6 L1045.3,373.4 L1049.4,373.1 L1053.4,372.9 L1057.4,372.6 L1061.5,372.4 L1065.5,372.1 L1069.6,371.9 L1073.6,371.7 L1077.7,371.4 L1081.7,371.2 L1085.8,371.0 L1089.8,370.8 L1093.9,370.5 L1097.9,370.3 L1102.0,370.1 L1106.0,369.9 L1110.0,369.7 L1114.1,369.5 L1118.1,369.3 L1122.2,369.1 L1126.2,368.9 L1130.3,368.7 L1134.3,368.5 L1138.4,368.3 L1142.4,368.1 L1146.5,367.9 L1150.5,367.7 L1154.5,367.6 L1158.6,367.4 L1162.6,367.2 L1166.7,367.0 L1170.7,366.8 L1174.8,366.7 L1178.8,366.5 L1182.8,366.3 L1186.9,366.1 L1190.9,366.0 L1195.0,365.8"/>
</g>
<g fill="#0000ff"><circle cx="321.4" cy="459.0" r="10"/><circle cx="468.4" cy="444.1" r="10"/><circle cx="579.1" cy="431.4" r="10"/><circle cx="732.5" cy="407.9" r="10"/><circle cx="758.0" cy="407.9" r="10"/><circle cx="763.0" cy="407.4" r="10"/><circle cx="830.4" cy="388.9" r="10"/><circle cx="880.4" cy="385.7" r="10"/><circle cx="985.9" cy="371.5" r="10"/><circle cx="1032.6" cy="374.8" r="10"/><circle cx="1087.0" cy="366.1" r="10"/><circle cx="1137.0" cy="367.2" r="10"/><circle cx="383.2" cy="500.4" r="10"/><circle cx="536.5" cy="489.7" r="10"/><circle cx="636.6" cy="480.3" r="10"/><circle cx="787.9" cy="454.0" r="10"/><circle cx="941.2" cy="422.0" r="10"/><circle cx="1043.5" cy="416.5" r="10"/><circle cx="1150.0" cy="408.0" r="10"/></g>
<g stroke="#ff0000" stroke-width="6.5">
<line x1="317" y1="396.5" x2="1187" y2="396.5"/>
<line x1="317" y1="463.8" x2="1187" y2="463.8"/>
<line x1="751.7" y1="428.9" x2="1187" y2="428.9"/>
</g>
<g fill="#ff0000"><circle cx="344.8" cy="396.5" r="10"/><circle cx="473.5" cy="396.5" r="10"/><circle cx="599.6" cy="396.5" r="10"/><circle cx="727.4" cy="396.5" r="10"/><circle cx="878.2" cy="396.5" r="10"/><circle cx="1006.0" cy="396.5" r="10"/><circle cx="1133.0" cy="396.5" r="10"/><circle cx="374.6" cy="463.8" r="10"/><circle cx="503.3" cy="463.8" r="10"/><circle cx="630.2" cy="463.8" r="10"/><circle cx="758.0" cy="463.8" r="10"/><circle cx="886.7" cy="463.8" r="10"/><circle cx="1012.0" cy="463.8" r="10"/><circle cx="1139.3" cy="463.8" r="10"/><circle cx="751.7" cy="428.9" r="10"/><circle cx="764.4" cy="428.9" r="10"/><circle cx="888.0" cy="428.9" r="10"/><circle cx="1014.5" cy="428.9" r="10"/><circle cx="1143.6" cy="428.9" r="10"/></g>
</g>
<g font-size="42" fill="#000" text-anchor="end">
<text x="303" y="201.8">1</text>
<text x="303" y="443.5">0</text>
<text x="303" y="688.0">-1</text>
</g>
<g font-size="42" fill="#000" text-anchor="middle">
<text x="495.5" y="845">-0.01</text>
<text x="752.0" y="845">0.00</text>
<text x="1008.5" y="845">0.01</text>
</g>
<rect x="1535.2" y="932.8" width="891" height="713.4" fill="none" stroke="#000" stroke-width="3.5"/>
<g stroke="#000" stroke-width="3.5" stroke-linecap="round"><line x1="1537" y1="1645.4" x2="1549" y2="1645.4"/><line x1="1537" y1="1556.3" x2="1542" y2="1556.3"/><line x1="1537" y1="1467.2" x2="1549" y2="1467.2"/><line x1="1537" y1="1378.1" x2="1542" y2="1378.1"/><line x1="1537" y1="1289.0" x2="1549" y2="1289.0"/><line x1="1537" y1="1199.9" x2="1542" y2="1199.9"/><line x1="1537" y1="1110.8" x2="1549" y2="1110.8"/><line x1="1537" y1="1021.7" x2="1542" y2="1021.7"/><line x1="1537" y1="932.6" x2="1549" y2="932.6"/><line x1="1614.3" y1="1644" x2="1614.3" y2="1632"/><line x1="1706.0" y1="1644" x2="1706.0" y2="1639"/><line x1="1797.7" y1="1644" x2="1797.7" y2="1632"/><line x1="1889.3" y1="1644" x2="1889.3" y2="1639"/><line x1="1981.0" y1="1644" x2="1981.0" y2="1632"/><line x1="2072.7" y1="1644" x2="2072.7" y2="1639"/><line x1="2164.3" y1="1644" x2="2164.3" y2="1632"/><line x1="2256.0" y1="1644" x2="2256.0" y2="1639"/><line x1="2347.7" y1="1644" x2="2347.7" y2="1632"/></g>
<g clip-path="url(#c2)">
<line x1="1535" y1="1288.8" x2="2426" y2="1288.8" stroke="#000" stroke-width="3.5"/>
<path d="M1977.5,932 L1985.5,1250 L1985.8,1420 L1984.5,1648" stroke="#000" stroke-width="2.7" fill="none"/>
<g stroke="#00ff00" stroke-width="6" fill="none">
<path d="M1885.0,932.0 L1876.0,1648.0"/>
<path d="M2083.0,932.0 L2075.5,1648.0"/>
</g>
<g fill="#00ff00"><circle cx="1884.9" cy="969.7" r="11.6"/><circle cx="1883.6" cy="1190.0" r="11.6"/><circle cx="1881.5" cy="1243.9" r="11.6"/><circle cx="1880.3" cy="1403.7" r="11.6"/><circle cx="1879.4" cy="1507.3" r="11.6"/><circle cx="2081.9" cy="1005.1" r="11.6"/><circle cx="2079.0" cy="1157.5" r="11.6"/><circle cx="2079.0" cy="1261.0" r="11.6"/><circle cx="2078.5" cy="1368.3" r="11.6"/><circle cx="2076.4" cy="1531.0" r="11.6"/></g>
<path d="M1984.8,932.0 L1984.8,936.0 L1984.7,940.0 L1984.7,944.1 L1984.6,948.1 L1984.6,952.1 L1984.5,956.1 L1984.5,960.2 L1984.4,964.2 L1984.4,968.2 L1984.3,972.2 L1984.3,976.2 L1984.2,980.3 L1984.2,984.3 L1984.1,988.3 L1984.1,992.3 L1984.0,996.4 L1984.0,1000.4 L1983.9,1004.4 L1983.9,1008.4 L1983.8,1012.4 L1983.8,1016.5 L1983.7,1020.5 L1983.7,1024.5 L1983.6,1028.5 L1983.6,1032.6 L1983.5,1036.6 L1983.5,1040.6 L1983.4,1044.6 L1983.4,1048.6 L1983.3,1052.7 L1983.3,1056.7 L1983.2,1060.7 L1983.2,1064.7 L1983.1,1068.8 L1983.1,1072.8 L1983.0,1076.8 L1983.0,1080.8 L1982.9,1084.9 L1982.9,1088.9 L1982.8,1092.9 L1982.8,1096.9 L1982.7,1100.9 L1982.7,1105.0 L1982.6,1109.0 L1982.6,1113.0 L1982.5,1117.0 L1982.5,1121.1 L1982.4,1125.1 L1982.4,1129.1 L1982.3,1133.1 L1982.3,1137.1 L1982.2,1141.2 L1982.2,1145.2 L1982.1,1149.2 L1982.1,1153.2 L1982.0,1157.3 L1982.0,1161.3 L1981.9,1165.3 L1981.9,1169.3 L1981.8,1173.3 L1981.8,1177.4 L1981.7,1181.4 L1981.7,1185.4 L1981.6,1189.4 L1981.6,1193.5 L1981.5,1197.5 L1981.5,1201.5 L1981.4,1205.5 L1981.4,1209.5 L1981.3,1213.6 L1981.3,1217.6 L1981.2,1221.6 L1981.2,1225.6 L1981.1,1229.7 L1981.1,1233.7 L1981.0,1237.7 L1981.0,1241.7 L1980.9,1245.7 L1980.9,1249.8 L1980.8,1253.8 L1980.8,1257.8 L1980.7,1261.8 L1980.7,1265.9 L1980.6,1269.9 L1980.6,1273.9 L1980.5,1277.9 L1980.5,1282.0 L1980.4,1286.0 L1980.4,1290.0 L1980.3,1294.0 L1980.3,1298.0 L1980.2,1302.1 L1980.2,1306.1 L1980.1,1310.1 L1980.1,1314.1 L1980.0,1318.2 L1980.0,1322.2 L1979.9,1326.2 L1979.9,1330.2 L1979.8,1334.2 L1979.8,1338.3 L1979.7,1342.3 L1979.7,1346.3 L1979.6,1350.3 L1979.6,1354.4 L1979.5,1358.4 L1979.5,1362.4 L1979.4,1366.4 L1979.4,1370.4 L1979.3,1374.5 L1979.3,1378.5 L1979.3,1382.5 L1979.2,1386.5 L1979.2,1390.6 L1979.1,1394.6 L1979.1,1398.6 L1979.0,1402.6 L1979.0,1406.6 L1978.9,1410.7 L1978.9,1414.7 L1978.8,1418.7 L1978.8,1422.7 L1978.7,1426.8 L1978.7,1430.8 L1978.6,1434.8 L1978.6,1438.8 L1978.5,1442.8 L1978.5,1446.9 L1978.5,1450.9 L1978.4,1454.9 L1978.4,1458.9 L1978.3,1463.0 L1978.3,1467.0 L1978.2,1471.0 L1978.2,1475.0 L1978.1,1479.1 L1978.1,1483.1 L1978.0,1487.1 L1978.0,1491.1 L1978.0,1495.1 L1977.9,1499.2 L1977.9,1503.2 L1977.8,1507.2 L1977.8,1511.2 L1977.7,1515.3 L1977.7,1519.3 L1977.6,1523.3 L1977.6,1527.3 L1977.6,1531.3 L1977.5,1535.4 L1977.5,1539.4 L1977.4,1543.4 L1977.4,1547.4 L1977.3,1551.5 L1977.3,1555.5 L1977.3,1559.5 L1977.2,1563.5 L1977.2,1567.5 L1977.1,1571.6 L1977.1,1575.6 L1977.0,1579.6 L1977.0,1583.6 L1977.0,1587.7 L1976.9,1591.7 L1976.9,1595.7 L1976.8,1599.7 L1976.8,1603.8 L1976.8,1607.8 L1976.7,1611.8 L1976.7,1615.8 L1976.6,1619.8 L1976.6,1623.9 L1976.6,1627.9 L1976.5,1631.9 L1976.5,1635.9 L1976.4,1640.0 L1976.4,1644.0 L1976.4,1648.0" stroke="#0000ff" stroke-width="12" fill="none" stroke-linejoin="round"/>
<g fill="#0000ff"><circle cx="1990.9" cy="958.4" r="11.5"/><circle cx="1981.7" cy="971.7" r="11.5"/><circle cx="1981.7" cy="1088.6" r="11.5"/><circle cx="1985.9" cy="1104.5" r="11.5"/><circle cx="1983.0" cy="1180.4" r="11.5"/><circle cx="1983.0" cy="1224.3" r="11.5"/><circle cx="1978.8" cy="1282.7" r="11.5"/><circle cx="1977.5" cy="1380.0" r="11.5"/><circle cx="1980.5" cy="1455.9" r="11.5"/><circle cx="1976.3" cy="1493.5" r="11.5"/><circle cx="1974.6" cy="1556.1" r="11.5"/><circle cx="1976.3" cy="1633.3" r="11.5"/></g>
<g fill="none" stroke="#ff0000" stroke-width="25" stroke-linecap="round" stroke-linejoin="round">
<path d="M1520.1,1365.9 L1522.9,1363.1 L1525.7,1360.3 L1528.6,1357.5 L1531.4,1354.7 L1534.2,1351.8 L1537.0,1349.0 L1539.8,1346.2 L1542.6,1343.3 L1545.4,1340.4 L1548.2,1337.6 L1551.0,1334.7 L1553.8,1331.8 L1556.6,1329.0 L1559.4,1326.1 L1562.2,1323.2 L1565.0,1320.3 L1567.8,1317.4 L1570.6,1314.5 L1573.4,1311.6 L1576.2,1308.7 L1579.0,1305.8 L1581.8,1302.9 L1584.6,1300.0 L1587.4,1297.1 L1590.2,1294.2 L1593.0,1291.3 L1595.9,1288.4 L1598.7,1285.6 L1601.5,1282.7 L1604.3,1279.8 L1607.1,1276.9 L1610.0,1274.0 L1612.8,1271.1 L1615.6,1268.3 L1618.5,1265.4 L1621.3,1262.5 L1624.2,1259.7 L1627.0,1256.8 L1629.9,1254.0 L1632.8,1251.1 L1635.7,1248.3 L1638.6,1245.5 L1641.4,1242.7 L1644.3,1239.9 L1647.3,1237.1 L1650.2,1234.3 L1653.1,1231.5 L1656.0,1228.8 L1659.0,1226.0 L1661.9,1223.3 L1664.9,1220.5 L1667.8,1217.8 L1670.8,1215.1 L1673.8,1212.4 L1676.8,1209.7 L1679.8,1207.1 L1682.8,1204.4 L1685.9,1201.8 L1688.9,1199.1 L1691.9,1196.5 L1695.0,1193.9 L1698.1,1191.4 L1701.2,1188.8 L1704.3,1186.2 L1707.4,1183.7 L1710.5,1181.2 L1713.7,1178.7 L1716.8,1176.2 L1720.0,1173.8 L1723.2,1171.4 L1726.4,1168.9 L1729.6,1166.5 L1732.8,1164.2 L1736.1,1161.8 L1739.3,1159.5 L1742.6,1157.2 L1745.9,1154.9 L1749.2,1152.6 L1752.5,1150.4 L1755.8,1148.1 L1759.2,1145.9 L1762.6,1143.7 L1765.9,1141.6 L1769.3,1139.4 L1772.7,1137.3 L1776.1,1135.1 L1779.5,1133.0 L1783.0,1130.9 L1786.4,1128.8 L1789.8,1126.8 L1793.3,1124.7 L1796.7,1122.6 L1800.2,1120.6 L1803.7,1118.5 L1807.2,1116.5 L1810.6,1114.5 L1814.1,1112.4 L1817.6,1110.4 L1821.1,1108.4 L1824.6,1106.4 L1828.1,1104.4 L1831.6,1102.4 L1835.1,1100.4 L1838.6,1098.3 L1842.1,1096.3 L1845.6,1094.3 L1849.1,1092.3 L1852.5,1090.3 L1856.0,1088.2 L1859.5,1086.2 L1863.0,1084.2 L1866.5,1082.1 L1869.9,1080.1 L1873.4,1078.0 L1876.8,1075.9 L1880.3,1073.8 L1883.7,1071.7 L1887.2,1069.6 L1890.6,1067.5 L1894.0,1065.3 L1897.4,1063.2 L1900.8,1061.0 L1904.2,1058.8 L1907.5,1056.6 L1910.9,1054.4 L1914.2,1052.2 L1917.5,1049.9 L1920.9,1047.6 L1924.2,1045.4 L1927.5,1043.1 L1930.8,1040.9 L1934.2,1038.7 L1937.5,1036.5 L1940.9,1034.4 L1944.3,1032.3 L1947.7,1030.3 L1951.1,1028.3 L1954.6,1026.4 L1958.1,1024.6 L1961.7,1022.8 L1965.3,1021.2 L1968.9,1019.7 L1972.6,1018.2 L1976.3,1016.9 L1980.1,1015.6 L1983.9,1014.5 L1987.8,1013.5 L1991.7,1012.5 L1995.6,1011.5 L1999.5,1010.6 L2003.5,1009.7 L2007.4,1008.9 L2011.4,1008.1 L2015.3,1007.2 L2019.3,1006.4 L2023.2,1005.7 L2027.2,1004.9 L2031.1,1004.1 L2035.1,1003.4 L2039.1,1002.6 L2043.1,1001.9 L2047.0,1001.2 L2051.0,1000.5 L2055.0,999.8 L2059.0,999.1 L2062.9,998.4 L2066.9,997.7 L2070.9,997.1 L2074.9,996.4 L2078.9,995.7 L2082.8,995.0 L2086.8,994.4 L2090.8,993.7 L2094.8,993.1 L2098.8,992.4 L2102.7,991.7 L2106.7,991.0 L2110.7,990.4 L2114.7,989.7 L2118.6,989.0 L2122.6,988.4 L2126.6,987.7 L2130.6,987.0 L2134.5,986.3 L2138.5,985.6 L2142.5,985.0 L2146.4,984.3 L2150.4,983.6 L2154.4,982.9 L2158.3,982.2 L2162.3,981.5 L2166.2,980.9 L2170.2,980.2 L2174.2,979.5 L2178.1,978.8 L2182.1,978.1 L2186.1,977.4 L2190.0,976.7 L2194.0,976.1 L2197.9,975.4 L2201.9,974.7 L2205.9,974.0 L2209.8,973.3 L2213.8,972.6 L2217.7,971.9 L2221.7,971.3 L2225.6,970.6 L2229.6,969.9 L2233.6,969.2 L2237.5,968.5 L2241.5,967.8 L2245.4,967.2 L2249.4,966.5 L2253.3,965.8 L2257.3,965.1 L2261.3,964.4 L2265.2,963.8 L2269.2,963.1 L2273.1,962.4 L2277.1,961.7 L2281.1,961.1 L2285.0,960.4 L2289.0,959.7 L2292.9,959.1 L2296.9,958.4 L2300.9,957.8 L2304.8,957.1 L2308.8,956.4 L2312.8,955.8 L2316.7,955.1 L2320.7,954.5 L2324.6,953.8 L2328.6,953.2 L2332.6,952.5 L2336.6,951.9 L2340.5,951.3 L2344.5,950.6 L2348.5,950.0 L2352.4,949.4 L2356.4,948.7 L2360.4,948.1 L2364.4,947.5 L2368.3,946.9 L2372.3,946.3 L2376.3,945.6 L2380.3,945.0 L2384.2,944.4 L2388.2,943.8 L2392.2,943.2 L2396.2,942.6 L2400.2,942.1 L2404.2,941.5 L2408.1,940.9 L2412.1,940.3 L2416.1,939.7 L2420.1,939.2 L2424.1,938.6 L2428.1,938.0 L2432.1,937.5 L2436.1,936.9 L2440.1,936.4"/>
<path d="M1520.0,1592.2 L1523.9,1591.4 L1527.9,1590.5 L1531.8,1589.7 L1535.8,1588.9 L1539.7,1588.1 L1543.7,1587.2 L1547.7,1586.4 L1551.6,1585.6 L1555.5,1584.8 L1559.5,1584.0 L1563.4,1583.1 L1567.4,1582.3 L1571.3,1581.5 L1575.3,1580.7 L1579.2,1579.9 L1583.2,1579.1 L1587.1,1578.3 L1591.0,1577.5 L1595.0,1576.7 L1598.9,1575.9 L1602.9,1575.1 L1606.8,1574.3 L1610.7,1573.5 L1614.7,1572.7 L1618.6,1571.9 L1622.5,1571.1 L1626.5,1570.3 L1630.4,1569.5 L1634.4,1568.7 L1638.3,1567.9 L1642.2,1567.1 L1646.2,1566.4 L1650.1,1565.6 L1654.0,1564.8 L1658.0,1564.0 L1661.9,1563.3 L1665.8,1562.5 L1669.8,1561.7 L1673.7,1561.0 L1677.6,1560.2 L1681.6,1559.5 L1685.5,1558.7 L1689.4,1557.9 L1693.4,1557.2 L1697.3,1556.4 L1701.2,1555.7 L1705.2,1554.9 L1709.1,1554.2 L1713.0,1553.5 L1717.0,1552.7 L1720.9,1552.0 L1724.8,1551.3 L1728.8,1550.5 L1732.7,1549.8 L1736.7,1549.1 L1740.6,1548.4 L1744.5,1547.7 L1748.5,1546.9 L1752.4,1546.2 L1756.4,1545.5 L1760.3,1544.8 L1764.3,1544.1 L1768.2,1543.4 L1772.2,1542.7 L1776.1,1542.0 L1780.1,1541.3 L1784.0,1540.7 L1788.0,1540.0 L1791.9,1539.3 L1795.9,1538.6 L1799.8,1537.9 L1803.8,1537.3 L1807.7,1536.6 L1811.7,1535.9 L1815.7,1535.3 L1819.6,1534.6 L1823.6,1534.0 L1827.5,1533.3 L1831.5,1532.7 L1835.5,1532.0 L1839.5,1531.4 L1843.4,1530.8 L1847.4,1530.1 L1851.4,1529.5 L1855.4,1528.9 L1859.3,1528.3 L1863.3,1527.7 L1867.3,1527.0 L1871.3,1526.4 L1875.3,1525.8 L1879.3,1525.2 L1883.3,1524.6 L1887.3,1524.0 L1891.3,1523.5 L1895.3,1522.9 L1899.3,1522.3 L1903.3,1521.7 L1907.3,1521.1 L1911.3,1520.6 L1915.3,1520.0 L1919.3,1519.5 L1923.3,1518.9 L1927.3,1518.4 L1931.3,1517.8 L1935.4,1517.3 L1939.4,1516.7 L1943.4,1516.2 L1947.5,1515.7 L1951.5,1515.1 L1955.5,1514.5 L1959.5,1513.9 L1963.5,1513.3 L1967.4,1512.6 L1971.4,1511.8 L1975.3,1511.0 L1979.2,1510.1 L1983.0,1509.1 L1986.8,1508.0 L1990.5,1506.8 L1994.2,1505.4 L1997.9,1504.0 L2001.4,1502.4 L2005.0,1500.7 L2008.4,1498.8 L2011.8,1496.8 L2015.2,1494.7 L2018.5,1492.5 L2021.7,1490.1 L2024.9,1487.7 L2028.1,1485.3 L2031.3,1482.7 L2034.4,1480.1 L2037.4,1477.4 L2040.5,1474.8 L2043.5,1472.0 L2046.5,1469.3 L2049.5,1466.6 L2052.5,1463.8 L2055.5,1461.1 L2058.5,1458.4 L2061.5,1455.7 L2064.6,1453.1 L2067.6,1450.5 L2070.7,1447.9 L2073.8,1445.4 L2077.0,1442.9 L2080.2,1440.5 L2083.4,1438.1 L2086.6,1435.8 L2089.9,1433.5 L2093.2,1431.3 L2096.5,1429.1 L2099.9,1426.9 L2103.3,1424.8 L2106.7,1422.7 L2110.1,1420.7 L2113.6,1418.6 L2117.1,1416.6 L2120.6,1414.6 L2124.1,1412.6 L2127.6,1410.6 L2131.1,1408.6 L2134.6,1406.7 L2138.1,1404.7 L2141.6,1402.7 L2145.1,1400.8 L2148.7,1398.8 L2152.2,1396.8 L2155.7,1394.8 L2159.2,1392.8 L2162.7,1390.8 L2166.1,1388.8 L2169.6,1386.8 L2173.1,1384.7 L2176.5,1382.6 L2179.9,1380.6 L2183.4,1378.5 L2186.8,1376.3 L2190.1,1374.2 L2193.5,1372.0 L2196.9,1369.8 L2200.2,1367.6 L2203.5,1365.3 L2206.8,1363.0 L2210.0,1360.7 L2213.3,1358.4 L2216.5,1356.0 L2219.7,1353.6 L2222.9,1351.2 L2226.1,1348.8 L2229.3,1346.3 L2232.4,1343.8 L2235.5,1341.3 L2238.6,1338.8 L2241.7,1336.2 L2244.8,1333.7 L2247.9,1331.1 L2250.9,1328.5 L2254.0,1325.8 L2257.0,1323.2 L2260.0,1320.5 L2263.0,1317.9 L2266.0,1315.2 L2269.0,1312.5 L2271.9,1309.7 L2274.9,1307.0 L2277.9,1304.3 L2280.8,1301.5 L2283.7,1298.8 L2286.7,1296.0 L2289.6,1293.2 L2292.5,1290.4 L2295.4,1287.6 L2298.3,1284.8 L2301.2,1282.0 L2304.1,1279.2 L2307.0,1276.4 L2309.9,1273.6 L2312.8,1270.7 L2315.6,1267.9 L2318.5,1265.1 L2321.4,1262.2 L2324.3,1259.4 L2327.1,1256.6 L2330.0,1253.8 L2332.9,1250.9 L2335.8,1248.1 L2338.6,1245.3 L2341.5,1242.5 L2344.4,1239.7 L2347.3,1236.9 L2350.2,1234.1 L2353.1,1231.3 L2356.0,1228.5 L2358.9,1225.7 L2361.8,1223.0 L2364.7,1220.2 L2367.6,1217.5 L2370.5,1214.8 L2373.5,1212.0 L2376.4,1209.3 L2379.3,1206.6 L2382.3,1203.9 L2385.2,1201.2 L2388.1,1198.5 L2391.1,1195.8 L2394.0,1193.1 L2397.0,1190.4 L2399.9,1187.7 L2402.8,1184.9 L2405.7,1182.2 L2408.6,1179.5 L2411.5,1176.7 L2414.4,1173.9 L2417.3,1171.1 L2420.2,1168.3 L2423.0,1165.4 L2425.9,1162.5 L2428.7,1159.6 L2431.5,1156.7 L2434.3,1153.7 L2437.1,1150.7 L2439.8,1147.7"/>
<path d="M1983.9,1253.1 L1988.2,1252.4 L1991.9,1250.8 L1994.9,1248.7 L1997.4,1246.0 L1999.5,1242.9 L2001.3,1239.4 L2002.9,1235.8 L2004.4,1231.9 L2005.8,1228.0 L2007.3,1224.1 L2008.8,1220.3 L2010.5,1216.5 L2012.4,1212.9 L2014.4,1209.4 L2016.5,1205.9 L2018.7,1202.6 L2021.1,1199.3 L2023.6,1196.2 L2026.2,1193.1 L2028.8,1190.1 L2031.6,1187.2 L2034.5,1184.4 L2037.4,1181.6 L2040.5,1178.9 L2043.6,1176.3 L2046.7,1173.7 L2049.9,1171.2 L2053.2,1168.8 L2056.5,1166.4 L2059.8,1164.1 L2063.2,1161.8 L2066.6,1159.6 L2070.1,1157.4 L2073.5,1155.3 L2077.0,1153.2 L2080.5,1151.2 L2084.0,1149.2 L2087.5,1147.2 L2091.1,1145.3 L2094.6,1143.3 L2098.2,1141.5 L2101.8,1139.6 L2105.5,1137.8 L2109.1,1136.0 L2112.7,1134.3 L2116.4,1132.5 L2120.1,1130.8 L2123.7,1129.1 L2127.4,1127.4 L2131.1,1125.7 L2134.8,1124.1 L2138.5,1122.4 L2142.2,1120.8 L2145.9,1119.2 L2149.7,1117.5 L2153.4,1115.9 L2157.1,1114.3 L2160.8,1112.7 L2164.5,1111.1 L2168.2,1109.4 L2172.0,1107.8 L2175.7,1106.2 L2179.4,1104.6 L2183.1,1103.0 L2186.8,1101.3 L2190.5,1099.7 L2194.2,1098.1 L2197.9,1096.5 L2201.6,1094.8 L2205.4,1093.2 L2209.1,1091.6 L2212.8,1090.0 L2216.5,1088.3 L2220.2,1086.7 L2223.9,1085.1 L2227.6,1083.4 L2231.3,1081.8 L2235.0,1080.2 L2238.7,1078.5 L2242.4,1076.9 L2246.1,1075.3 L2249.8,1073.6 L2253.5,1072.0 L2257.2,1070.4 L2260.9,1068.7 L2264.6,1067.1 L2268.3,1065.5 L2272.0,1063.8 L2275.7,1062.2 L2279.5,1060.5 L2283.2,1058.9 L2286.9,1057.3 L2290.6,1055.6 L2294.3,1054.0 L2298.0,1052.4 L2301.7,1050.8 L2305.4,1049.1 L2309.1,1047.5 L2312.8,1045.9 L2316.6,1044.3 L2320.3,1042.7 L2324.0,1041.0 L2327.7,1039.4 L2331.4,1037.8 L2335.1,1036.2 L2338.9,1034.6 L2342.6,1033.0 L2346.3,1031.4 L2350.0,1029.8 L2353.8,1028.2 L2357.5,1026.7 L2361.2,1025.1 L2364.9,1023.5 L2368.7,1021.9 L2372.4,1020.4 L2376.2,1018.8 L2379.9,1017.2 L2383.6,1015.7 L2387.4,1014.1 L2391.1,1012.6 L2394.9,1011.1 L2398.6,1009.5 L2402.4,1008.0 L2406.1,1006.5 L2409.9,1005.0 L2413.7,1003.5 L2417.4,1002.0 L2421.2,1000.5 L2425.0,999.0 L2428.7,997.5 L2432.5,996.1 L2436.3,994.6 L2440.1,993.1"/>
</g>
</g>
<g font-size="43" fill="#000" text-anchor="end">
<text x="1524" y="942.6">0.2</text>
<text x="1524" y="1120.8">0.1</text>
<text x="1524" y="1299.0">0.0</text>
<text x="1524" y="1477.2">-0.1</text>
<text x="1524" y="1655.4">-0.2</text>
</g>
<g font-size="43" fill="#000" text-anchor="middle">
<text x="1614.3" y="1691">-1.4</text>
<text x="1797.7" y="1691">-0.7</text>
<text x="1981.0" y="1691">0.0</text>
<text x="2164.3" y="1691">0.7</text>
<text x="2347.7" y="1691">1.4</text>
</g>
</svg></body></html>
